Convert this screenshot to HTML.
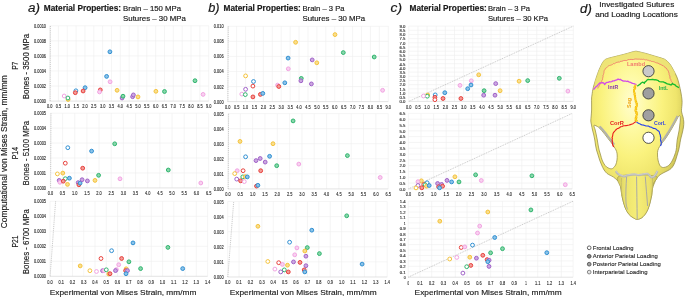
<!DOCTYPE html>
<html><head><meta charset="utf-8"><title>Figure</title>
<style>
html,body{margin:0;padding:0;background:#fff;}
body{width:685px;height:298px;overflow:hidden;}
svg{display:block;font-family:"Liberation Sans", sans-serif;will-change:transform;}
</style></head><body>
<svg width="685" height="298" viewBox="0 0 685 298">
<rect width="685" height="298" fill="#fff"/>
<g fill="#2a2a2a" stroke="#2a2a2a" stroke-width="0.12">
<line x1="58.44" y1="25.80" x2="58.44" y2="101.10" stroke="#efefef" stroke-width="0.6"/>
<line x1="67.28" y1="25.80" x2="67.28" y2="101.10" stroke="#efefef" stroke-width="0.6"/>
<line x1="76.12" y1="25.80" x2="76.12" y2="101.10" stroke="#efefef" stroke-width="0.6"/>
<line x1="84.96" y1="25.80" x2="84.96" y2="101.10" stroke="#efefef" stroke-width="0.6"/>
<line x1="93.79" y1="25.80" x2="93.79" y2="101.10" stroke="#efefef" stroke-width="0.6"/>
<line x1="102.63" y1="25.80" x2="102.63" y2="101.10" stroke="#efefef" stroke-width="0.6"/>
<line x1="111.47" y1="25.80" x2="111.47" y2="101.10" stroke="#efefef" stroke-width="0.6"/>
<line x1="120.31" y1="25.80" x2="120.31" y2="101.10" stroke="#efefef" stroke-width="0.6"/>
<line x1="129.15" y1="25.80" x2="129.15" y2="101.10" stroke="#efefef" stroke-width="0.6"/>
<line x1="137.99" y1="25.80" x2="137.99" y2="101.10" stroke="#efefef" stroke-width="0.6"/>
<line x1="146.83" y1="25.80" x2="146.83" y2="101.10" stroke="#efefef" stroke-width="0.6"/>
<line x1="155.67" y1="25.80" x2="155.67" y2="101.10" stroke="#efefef" stroke-width="0.6"/>
<line x1="164.51" y1="25.80" x2="164.51" y2="101.10" stroke="#efefef" stroke-width="0.6"/>
<line x1="173.34" y1="25.80" x2="173.34" y2="101.10" stroke="#efefef" stroke-width="0.6"/>
<line x1="182.18" y1="25.80" x2="182.18" y2="101.10" stroke="#efefef" stroke-width="0.6"/>
<line x1="191.02" y1="25.80" x2="191.02" y2="101.10" stroke="#efefef" stroke-width="0.6"/>
<line x1="199.86" y1="25.80" x2="199.86" y2="101.10" stroke="#efefef" stroke-width="0.6"/>
<line x1="208.70" y1="25.80" x2="208.70" y2="101.10" stroke="#efefef" stroke-width="0.6"/>
<line x1="49.60" y1="86.04" x2="208.70" y2="86.04" stroke="#efefef" stroke-width="0.6"/>
<line x1="49.60" y1="70.98" x2="208.70" y2="70.98" stroke="#efefef" stroke-width="0.6"/>
<line x1="49.60" y1="55.92" x2="208.70" y2="55.92" stroke="#efefef" stroke-width="0.6"/>
<line x1="49.60" y1="40.86" x2="208.70" y2="40.86" stroke="#efefef" stroke-width="0.6"/>
<line x1="49.60" y1="25.80" x2="208.70" y2="25.80" stroke="#efefef" stroke-width="0.6"/>
<line x1="49.60" y1="101.10" x2="208.70" y2="101.10" stroke="#d9d9d9" stroke-width="0.7"/>
<line x1="49.60" y1="25.80" x2="49.60" y2="101.10" stroke="#efefef" stroke-width="0.6"/>
<line x1="50.2" y1="101.1" x2="50.4" y2="25.8" stroke="#aaaaaa" stroke-width="0.65" stroke-dasharray="1 0.9"/>
<text x="49.60" y="108.40" font-size="4.7" text-anchor="middle" textLength="5.45" lengthAdjust="spacingAndGlyphs">0.0</text>
<text x="58.44" y="108.40" font-size="4.7" text-anchor="middle" textLength="5.45" lengthAdjust="spacingAndGlyphs">0.5</text>
<text x="67.28" y="108.40" font-size="4.7" text-anchor="middle" textLength="5.45" lengthAdjust="spacingAndGlyphs">1.0</text>
<text x="76.12" y="108.40" font-size="4.7" text-anchor="middle" textLength="5.45" lengthAdjust="spacingAndGlyphs">1.5</text>
<text x="84.96" y="108.40" font-size="4.7" text-anchor="middle" textLength="5.45" lengthAdjust="spacingAndGlyphs">2.0</text>
<text x="93.79" y="108.40" font-size="4.7" text-anchor="middle" textLength="5.45" lengthAdjust="spacingAndGlyphs">2.5</text>
<text x="102.63" y="108.40" font-size="4.7" text-anchor="middle" textLength="5.45" lengthAdjust="spacingAndGlyphs">3.0</text>
<text x="111.47" y="108.40" font-size="4.7" text-anchor="middle" textLength="5.45" lengthAdjust="spacingAndGlyphs">3.5</text>
<text x="120.31" y="108.40" font-size="4.7" text-anchor="middle" textLength="5.45" lengthAdjust="spacingAndGlyphs">4.0</text>
<text x="129.15" y="108.40" font-size="4.7" text-anchor="middle" textLength="5.45" lengthAdjust="spacingAndGlyphs">4.5</text>
<text x="137.99" y="108.40" font-size="4.7" text-anchor="middle" textLength="5.45" lengthAdjust="spacingAndGlyphs">5.0</text>
<text x="146.83" y="108.40" font-size="4.7" text-anchor="middle" textLength="5.45" lengthAdjust="spacingAndGlyphs">5.5</text>
<text x="155.67" y="108.40" font-size="4.7" text-anchor="middle" textLength="5.45" lengthAdjust="spacingAndGlyphs">6.0</text>
<text x="164.51" y="108.40" font-size="4.7" text-anchor="middle" textLength="5.45" lengthAdjust="spacingAndGlyphs">6.5</text>
<text x="173.34" y="108.40" font-size="4.7" text-anchor="middle" textLength="5.45" lengthAdjust="spacingAndGlyphs">7.0</text>
<text x="182.18" y="108.40" font-size="4.7" text-anchor="middle" textLength="5.45" lengthAdjust="spacingAndGlyphs">7.5</text>
<text x="191.02" y="108.40" font-size="4.7" text-anchor="middle" textLength="5.45" lengthAdjust="spacingAndGlyphs">8.0</text>
<text x="199.86" y="108.40" font-size="4.7" text-anchor="middle" textLength="5.45" lengthAdjust="spacingAndGlyphs">8.5</text>
<text x="208.70" y="108.40" font-size="4.7" text-anchor="middle" textLength="5.45" lengthAdjust="spacingAndGlyphs">9.0</text>
<text x="34.00" y="103.10" font-size="4.7" textLength="12.00" lengthAdjust="spacingAndGlyphs">0.0000</text>
<text x="34.00" y="88.04" font-size="4.7" textLength="12.00" lengthAdjust="spacingAndGlyphs">0.0002</text>
<text x="34.00" y="72.98" font-size="4.7" textLength="12.00" lengthAdjust="spacingAndGlyphs">0.0004</text>
<text x="34.00" y="57.92" font-size="4.7" textLength="12.00" lengthAdjust="spacingAndGlyphs">0.0006</text>
<text x="34.00" y="42.86" font-size="4.7" textLength="12.00" lengthAdjust="spacingAndGlyphs">0.0008</text>
<text x="34.00" y="27.80" font-size="4.7" textLength="12.00" lengthAdjust="spacingAndGlyphs">0.0010</text>
<circle cx="109.9" cy="51.8" r="1.9" fill="#8cc3e8" stroke="#2f8fd2" stroke-width="1.0"/>
<circle cx="106.6" cy="76.4" r="1.9" fill="#8cc3e8" stroke="#2f8fd2" stroke-width="1.0"/>
<circle cx="110.1" cy="81.8" r="1.9" fill="#f8d2f0" stroke="#f2a3e2" stroke-width="1.0"/>
<circle cx="85.1" cy="87.7" r="1.9" fill="#8cc3e8" stroke="#2f8fd2" stroke-width="1.0"/>
<circle cx="83.1" cy="91.0" r="1.9" fill="#f29c98" stroke="#e8403c" stroke-width="1.0"/>
<circle cx="75.9" cy="90.8" r="1.9" fill="#ffffff" stroke="#2f8fd2" stroke-width="1.0"/>
<circle cx="75.3" cy="92.7" r="1.9" fill="#f29c98" stroke="#e8403c" stroke-width="1.0"/>
<circle cx="100.3" cy="89.9" r="1.9" fill="#f29c98" stroke="#e8403c" stroke-width="1.0"/>
<circle cx="99.5" cy="91.9" r="1.9" fill="#f8d2f0" stroke="#f2a3e2" stroke-width="1.0"/>
<circle cx="64.2" cy="96.0" r="1.9" fill="#ffffff" stroke="#f2a3e2" stroke-width="1.0"/>
<circle cx="68.1" cy="99.5" r="1.9" fill="#f9de8e" stroke="#f5c33b" stroke-width="1.0"/>
<circle cx="67.9" cy="98.0" r="1.9" fill="#ffffff" stroke="#2fb56e" stroke-width="1.0"/>
<circle cx="117.1" cy="90.3" r="1.9" fill="#f9de8e" stroke="#f5c33b" stroke-width="1.0"/>
<circle cx="122.1" cy="98.0" r="1.9" fill="#cba8e0" stroke="#a062c8" stroke-width="1.0"/>
<circle cx="123.0" cy="96.2" r="1.9" fill="#8ad6ac" stroke="#2fb56e" stroke-width="1.0"/>
<circle cx="132.6" cy="96.7" r="1.9" fill="#cba8e0" stroke="#a062c8" stroke-width="1.0"/>
<circle cx="133.4" cy="94.9" r="1.9" fill="#cba8e0" stroke="#a062c8" stroke-width="1.0"/>
<circle cx="138.0" cy="96.9" r="1.9" fill="#f9de8e" stroke="#f5c33b" stroke-width="1.0"/>
<circle cx="155.9" cy="91.3" r="1.9" fill="#f9de8e" stroke="#f5c33b" stroke-width="1.0"/>
<circle cx="164.5" cy="91.5" r="1.9" fill="#8ad6ac" stroke="#2fb56e" stroke-width="1.0"/>
<circle cx="195.0" cy="80.7" r="1.9" fill="#8ad6ac" stroke="#2fb56e" stroke-width="1.0"/>
<circle cx="203.1" cy="94.4" r="1.9" fill="#f8d2f0" stroke="#f2a3e2" stroke-width="1.0"/>
<line x1="62.57" y1="113.20" x2="62.57" y2="187.90" stroke="#efefef" stroke-width="0.6"/>
<line x1="74.74" y1="113.20" x2="74.74" y2="187.90" stroke="#efefef" stroke-width="0.6"/>
<line x1="86.91" y1="113.20" x2="86.91" y2="187.90" stroke="#efefef" stroke-width="0.6"/>
<line x1="99.08" y1="113.20" x2="99.08" y2="187.90" stroke="#efefef" stroke-width="0.6"/>
<line x1="111.25" y1="113.20" x2="111.25" y2="187.90" stroke="#efefef" stroke-width="0.6"/>
<line x1="123.42" y1="113.20" x2="123.42" y2="187.90" stroke="#efefef" stroke-width="0.6"/>
<line x1="135.58" y1="113.20" x2="135.58" y2="187.90" stroke="#efefef" stroke-width="0.6"/>
<line x1="147.75" y1="113.20" x2="147.75" y2="187.90" stroke="#efefef" stroke-width="0.6"/>
<line x1="159.92" y1="113.20" x2="159.92" y2="187.90" stroke="#efefef" stroke-width="0.6"/>
<line x1="172.09" y1="113.20" x2="172.09" y2="187.90" stroke="#efefef" stroke-width="0.6"/>
<line x1="184.26" y1="113.20" x2="184.26" y2="187.90" stroke="#efefef" stroke-width="0.6"/>
<line x1="196.43" y1="113.20" x2="196.43" y2="187.90" stroke="#efefef" stroke-width="0.6"/>
<line x1="208.60" y1="113.20" x2="208.60" y2="187.90" stroke="#efefef" stroke-width="0.6"/>
<line x1="50.40" y1="172.96" x2="208.60" y2="172.96" stroke="#efefef" stroke-width="0.6"/>
<line x1="50.40" y1="158.02" x2="208.60" y2="158.02" stroke="#efefef" stroke-width="0.6"/>
<line x1="50.40" y1="143.08" x2="208.60" y2="143.08" stroke="#efefef" stroke-width="0.6"/>
<line x1="50.40" y1="128.14" x2="208.60" y2="128.14" stroke="#efefef" stroke-width="0.6"/>
<line x1="50.40" y1="113.20" x2="208.60" y2="113.20" stroke="#efefef" stroke-width="0.6"/>
<line x1="50.40" y1="187.90" x2="208.60" y2="187.90" stroke="#d9d9d9" stroke-width="0.7"/>
<line x1="50.40" y1="113.20" x2="50.40" y2="187.90" stroke="#efefef" stroke-width="0.6"/>
<line x1="50.6" y1="187.9" x2="51.0" y2="113.2" stroke="#aaaaaa" stroke-width="0.65" stroke-dasharray="1 0.9"/>
<text x="50.40" y="195.20" font-size="4.7" text-anchor="middle" textLength="5.45" lengthAdjust="spacingAndGlyphs">0.0</text>
<text x="62.57" y="195.20" font-size="4.7" text-anchor="middle" textLength="5.45" lengthAdjust="spacingAndGlyphs">0.5</text>
<text x="74.74" y="195.20" font-size="4.7" text-anchor="middle" textLength="5.45" lengthAdjust="spacingAndGlyphs">1.0</text>
<text x="86.91" y="195.20" font-size="4.7" text-anchor="middle" textLength="5.45" lengthAdjust="spacingAndGlyphs">1.5</text>
<text x="99.08" y="195.20" font-size="4.7" text-anchor="middle" textLength="5.45" lengthAdjust="spacingAndGlyphs">2.0</text>
<text x="111.25" y="195.20" font-size="4.7" text-anchor="middle" textLength="5.45" lengthAdjust="spacingAndGlyphs">2.5</text>
<text x="123.42" y="195.20" font-size="4.7" text-anchor="middle" textLength="5.45" lengthAdjust="spacingAndGlyphs">3.0</text>
<text x="135.58" y="195.20" font-size="4.7" text-anchor="middle" textLength="5.45" lengthAdjust="spacingAndGlyphs">3.5</text>
<text x="147.75" y="195.20" font-size="4.7" text-anchor="middle" textLength="5.45" lengthAdjust="spacingAndGlyphs">4.0</text>
<text x="159.92" y="195.20" font-size="4.7" text-anchor="middle" textLength="5.45" lengthAdjust="spacingAndGlyphs">4.5</text>
<text x="172.09" y="195.20" font-size="4.7" text-anchor="middle" textLength="5.45" lengthAdjust="spacingAndGlyphs">5.0</text>
<text x="184.26" y="195.20" font-size="4.7" text-anchor="middle" textLength="5.45" lengthAdjust="spacingAndGlyphs">5.5</text>
<text x="196.43" y="195.20" font-size="4.7" text-anchor="middle" textLength="5.45" lengthAdjust="spacingAndGlyphs">6.0</text>
<text x="208.60" y="195.20" font-size="4.7" text-anchor="middle" textLength="5.45" lengthAdjust="spacingAndGlyphs">6.5</text>
<text x="34.00" y="189.90" font-size="4.7" textLength="12.00" lengthAdjust="spacingAndGlyphs">0.0000</text>
<text x="34.00" y="174.96" font-size="4.7" textLength="12.00" lengthAdjust="spacingAndGlyphs">0.0001</text>
<text x="34.00" y="160.02" font-size="4.7" textLength="12.00" lengthAdjust="spacingAndGlyphs">0.0002</text>
<text x="34.00" y="145.08" font-size="4.7" textLength="12.00" lengthAdjust="spacingAndGlyphs">0.0003</text>
<text x="34.00" y="130.14" font-size="4.7" textLength="12.00" lengthAdjust="spacingAndGlyphs">0.0004</text>
<text x="34.00" y="115.20" font-size="4.7" textLength="12.00" lengthAdjust="spacingAndGlyphs">0.0005</text>
<circle cx="67.8" cy="147.7" r="1.9" fill="#ffffff" stroke="#2f8fd2" stroke-width="1.0"/>
<circle cx="91.6" cy="151.1" r="1.9" fill="#8cc3e8" stroke="#2f8fd2" stroke-width="1.0"/>
<circle cx="114.7" cy="143.8" r="1.9" fill="#8ad6ac" stroke="#2fb56e" stroke-width="1.0"/>
<circle cx="65.3" cy="163.2" r="1.9" fill="#ffffff" stroke="#e8403c" stroke-width="1.0"/>
<circle cx="82.7" cy="168.2" r="1.9" fill="#f29c98" stroke="#e8403c" stroke-width="1.0"/>
<circle cx="57.4" cy="173.9" r="1.9" fill="#ffffff" stroke="#f5c33b" stroke-width="1.0"/>
<circle cx="62.8" cy="173.1" r="1.9" fill="#f9de8e" stroke="#f5c33b" stroke-width="1.0"/>
<circle cx="98.6" cy="175.3" r="1.9" fill="#8ad6ac" stroke="#2fb56e" stroke-width="1.0"/>
<circle cx="65.3" cy="178.7" r="1.9" fill="#ffffff" stroke="#2fb56e" stroke-width="1.0"/>
<circle cx="69.4" cy="178.2" r="1.9" fill="#8cc3e8" stroke="#2f8fd2" stroke-width="1.0"/>
<circle cx="59.2" cy="180.4" r="1.9" fill="#cba8e0" stroke="#a062c8" stroke-width="1.0"/>
<circle cx="59.9" cy="182.3" r="1.9" fill="#f8d2f0" stroke="#f2a3e2" stroke-width="1.0"/>
<circle cx="63.3" cy="181.2" r="1.9" fill="#f29c98" stroke="#e8403c" stroke-width="1.0"/>
<circle cx="67.5" cy="184.4" r="1.9" fill="#f9de8e" stroke="#f5c33b" stroke-width="1.0"/>
<circle cx="78.2" cy="182.6" r="1.9" fill="#cba8e0" stroke="#a062c8" stroke-width="1.0"/>
<circle cx="78.9" cy="184.8" r="1.9" fill="#f29c98" stroke="#e8403c" stroke-width="1.0"/>
<circle cx="80.1" cy="183.1" r="1.9" fill="#8cc3e8" stroke="#2f8fd2" stroke-width="1.0"/>
<circle cx="82.1" cy="179.7" r="1.9" fill="#cba8e0" stroke="#a062c8" stroke-width="1.0"/>
<circle cx="87.4" cy="180.9" r="1.9" fill="#cba8e0" stroke="#a062c8" stroke-width="1.0"/>
<circle cx="95.0" cy="180.4" r="1.9" fill="#f9de8e" stroke="#f5c33b" stroke-width="1.0"/>
<circle cx="120.0" cy="178.8" r="1.9" fill="#f8d2f0" stroke="#f2a3e2" stroke-width="1.0"/>
<circle cx="168.3" cy="170.0" r="1.9" fill="#8ad6ac" stroke="#2fb56e" stroke-width="1.0"/>
<circle cx="200.8" cy="183.0" r="1.9" fill="#f8d2f0" stroke="#f2a3e2" stroke-width="1.0"/>
<line x1="61.26" y1="201.30" x2="61.26" y2="276.30" stroke="#efefef" stroke-width="0.6"/>
<line x1="72.51" y1="201.30" x2="72.51" y2="276.30" stroke="#efefef" stroke-width="0.6"/>
<line x1="83.77" y1="201.30" x2="83.77" y2="276.30" stroke="#efefef" stroke-width="0.6"/>
<line x1="95.03" y1="201.30" x2="95.03" y2="276.30" stroke="#efefef" stroke-width="0.6"/>
<line x1="106.29" y1="201.30" x2="106.29" y2="276.30" stroke="#efefef" stroke-width="0.6"/>
<line x1="117.54" y1="201.30" x2="117.54" y2="276.30" stroke="#efefef" stroke-width="0.6"/>
<line x1="128.80" y1="201.30" x2="128.80" y2="276.30" stroke="#efefef" stroke-width="0.6"/>
<line x1="140.06" y1="201.30" x2="140.06" y2="276.30" stroke="#efefef" stroke-width="0.6"/>
<line x1="151.31" y1="201.30" x2="151.31" y2="276.30" stroke="#efefef" stroke-width="0.6"/>
<line x1="162.57" y1="201.30" x2="162.57" y2="276.30" stroke="#efefef" stroke-width="0.6"/>
<line x1="173.83" y1="201.30" x2="173.83" y2="276.30" stroke="#efefef" stroke-width="0.6"/>
<line x1="185.09" y1="201.30" x2="185.09" y2="276.30" stroke="#efefef" stroke-width="0.6"/>
<line x1="196.34" y1="201.30" x2="196.34" y2="276.30" stroke="#efefef" stroke-width="0.6"/>
<line x1="207.60" y1="201.30" x2="207.60" y2="276.30" stroke="#efefef" stroke-width="0.6"/>
<line x1="50.00" y1="261.30" x2="207.60" y2="261.30" stroke="#efefef" stroke-width="0.6"/>
<line x1="50.00" y1="246.30" x2="207.60" y2="246.30" stroke="#efefef" stroke-width="0.6"/>
<line x1="50.00" y1="231.30" x2="207.60" y2="231.30" stroke="#efefef" stroke-width="0.6"/>
<line x1="50.00" y1="216.30" x2="207.60" y2="216.30" stroke="#efefef" stroke-width="0.6"/>
<line x1="50.00" y1="201.30" x2="207.60" y2="201.30" stroke="#efefef" stroke-width="0.6"/>
<line x1="50.00" y1="276.30" x2="207.60" y2="276.30" stroke="#d9d9d9" stroke-width="0.7"/>
<line x1="50.00" y1="201.30" x2="50.00" y2="276.30" stroke="#efefef" stroke-width="0.6"/>
<line x1="50.1" y1="276.3" x2="55.6" y2="201.3" stroke="#aaaaaa" stroke-width="0.65" stroke-dasharray="1 0.9"/>
<text x="50.00" y="283.60" font-size="4.7" text-anchor="middle" textLength="5.45" lengthAdjust="spacingAndGlyphs">0.0</text>
<text x="61.26" y="283.60" font-size="4.7" text-anchor="middle" textLength="5.45" lengthAdjust="spacingAndGlyphs">0.1</text>
<text x="72.51" y="283.60" font-size="4.7" text-anchor="middle" textLength="5.45" lengthAdjust="spacingAndGlyphs">0.2</text>
<text x="83.77" y="283.60" font-size="4.7" text-anchor="middle" textLength="5.45" lengthAdjust="spacingAndGlyphs">0.3</text>
<text x="95.03" y="283.60" font-size="4.7" text-anchor="middle" textLength="5.45" lengthAdjust="spacingAndGlyphs">0.4</text>
<text x="106.29" y="283.60" font-size="4.7" text-anchor="middle" textLength="5.45" lengthAdjust="spacingAndGlyphs">0.5</text>
<text x="117.54" y="283.60" font-size="4.7" text-anchor="middle" textLength="5.45" lengthAdjust="spacingAndGlyphs">0.6</text>
<text x="128.80" y="283.60" font-size="4.7" text-anchor="middle" textLength="5.45" lengthAdjust="spacingAndGlyphs">0.7</text>
<text x="140.06" y="283.60" font-size="4.7" text-anchor="middle" textLength="5.45" lengthAdjust="spacingAndGlyphs">0.8</text>
<text x="151.31" y="283.60" font-size="4.7" text-anchor="middle" textLength="5.45" lengthAdjust="spacingAndGlyphs">0.9</text>
<text x="162.57" y="283.60" font-size="4.7" text-anchor="middle" textLength="5.45" lengthAdjust="spacingAndGlyphs">1.0</text>
<text x="173.83" y="283.60" font-size="4.7" text-anchor="middle" textLength="5.45" lengthAdjust="spacingAndGlyphs">1.1</text>
<text x="185.09" y="283.60" font-size="4.7" text-anchor="middle" textLength="5.45" lengthAdjust="spacingAndGlyphs">1.2</text>
<text x="196.34" y="283.60" font-size="4.7" text-anchor="middle" textLength="5.45" lengthAdjust="spacingAndGlyphs">1.3</text>
<text x="207.60" y="283.60" font-size="4.7" text-anchor="middle" textLength="5.45" lengthAdjust="spacingAndGlyphs">1.4</text>
<text x="34.00" y="278.30" font-size="4.7" textLength="12.00" lengthAdjust="spacingAndGlyphs">0.0000</text>
<text x="34.00" y="263.30" font-size="4.7" textLength="12.00" lengthAdjust="spacingAndGlyphs">0.0001</text>
<text x="34.00" y="248.30" font-size="4.7" textLength="12.00" lengthAdjust="spacingAndGlyphs">0.0002</text>
<text x="34.00" y="233.30" font-size="4.7" textLength="12.00" lengthAdjust="spacingAndGlyphs">0.0003</text>
<text x="34.00" y="218.30" font-size="4.7" textLength="12.00" lengthAdjust="spacingAndGlyphs">0.0004</text>
<text x="34.00" y="203.30" font-size="4.7" textLength="12.00" lengthAdjust="spacingAndGlyphs">0.0005</text>
<circle cx="133.0" cy="242.9" r="1.9" fill="#8cc3e8" stroke="#2f8fd2" stroke-width="1.0"/>
<circle cx="167.9" cy="247.4" r="1.9" fill="#8ad6ac" stroke="#2fb56e" stroke-width="1.0"/>
<circle cx="111.6" cy="250.7" r="1.9" fill="#ffffff" stroke="#2f8fd2" stroke-width="1.0"/>
<circle cx="101.0" cy="258.5" r="1.9" fill="#ffffff" stroke="#e8403c" stroke-width="1.0"/>
<circle cx="121.6" cy="258.5" r="1.9" fill="#f29c98" stroke="#e8403c" stroke-width="1.0"/>
<circle cx="128.9" cy="261.8" r="1.9" fill="#8ad6ac" stroke="#2fb56e" stroke-width="1.0"/>
<circle cx="118.7" cy="264.7" r="1.9" fill="#f8d2f0" stroke="#f2a3e2" stroke-width="1.0"/>
<circle cx="80.2" cy="265.9" r="1.9" fill="#f9de8e" stroke="#f5c33b" stroke-width="1.0"/>
<circle cx="140.6" cy="268.6" r="1.9" fill="#8ad6ac" stroke="#2fb56e" stroke-width="1.0"/>
<circle cx="182.7" cy="268.6" r="1.9" fill="#8cc3e8" stroke="#2f8fd2" stroke-width="1.0"/>
<circle cx="89.9" cy="270.7" r="1.9" fill="#ffffff" stroke="#f5c33b" stroke-width="1.0"/>
<circle cx="96.5" cy="271.5" r="1.9" fill="#ffffff" stroke="#f2a3e2" stroke-width="1.0"/>
<circle cx="102.6" cy="270.7" r="1.9" fill="#cba8e0" stroke="#a062c8" stroke-width="1.0"/>
<circle cx="103.9" cy="270.7" r="1.9" fill="#f8d2f0" stroke="#f2a3e2" stroke-width="1.0"/>
<circle cx="106.3" cy="269.8" r="1.9" fill="#ffffff" stroke="#2fb56e" stroke-width="1.0"/>
<circle cx="126.2" cy="268.8" r="1.9" fill="#f9de8e" stroke="#f5c33b" stroke-width="1.0"/>
<circle cx="125.6" cy="270.6" r="1.9" fill="#f29c98" stroke="#e8403c" stroke-width="1.0"/>
<circle cx="127.5" cy="270.6" r="1.9" fill="#cba8e0" stroke="#a062c8" stroke-width="1.0"/>
<circle cx="116.4" cy="269.6" r="1.9" fill="#f8d2f0" stroke="#f2a3e2" stroke-width="1.0"/>
<circle cx="115.5" cy="270.6" r="1.9" fill="#cba8e0" stroke="#a062c8" stroke-width="1.0"/>
<circle cx="126.0" cy="273.7" r="1.9" fill="#8cc3e8" stroke="#2f8fd2" stroke-width="1.0"/>
<circle cx="108.8" cy="274.0" r="1.9" fill="#f9de8e" stroke="#f5c33b" stroke-width="1.0"/>
<circle cx="110.0" cy="273.7" r="1.9" fill="#f29c98" stroke="#e8403c" stroke-width="1.0"/>
<line x1="236.62" y1="26.30" x2="236.62" y2="101.60" stroke="#efefef" stroke-width="0.6"/>
<line x1="245.54" y1="26.30" x2="245.54" y2="101.60" stroke="#efefef" stroke-width="0.6"/>
<line x1="254.47" y1="26.30" x2="254.47" y2="101.60" stroke="#efefef" stroke-width="0.6"/>
<line x1="263.39" y1="26.30" x2="263.39" y2="101.60" stroke="#efefef" stroke-width="0.6"/>
<line x1="272.31" y1="26.30" x2="272.31" y2="101.60" stroke="#efefef" stroke-width="0.6"/>
<line x1="281.23" y1="26.30" x2="281.23" y2="101.60" stroke="#efefef" stroke-width="0.6"/>
<line x1="290.16" y1="26.30" x2="290.16" y2="101.60" stroke="#efefef" stroke-width="0.6"/>
<line x1="299.08" y1="26.30" x2="299.08" y2="101.60" stroke="#efefef" stroke-width="0.6"/>
<line x1="308.00" y1="26.30" x2="308.00" y2="101.60" stroke="#efefef" stroke-width="0.6"/>
<line x1="316.92" y1="26.30" x2="316.92" y2="101.60" stroke="#efefef" stroke-width="0.6"/>
<line x1="325.84" y1="26.30" x2="325.84" y2="101.60" stroke="#efefef" stroke-width="0.6"/>
<line x1="334.77" y1="26.30" x2="334.77" y2="101.60" stroke="#efefef" stroke-width="0.6"/>
<line x1="343.69" y1="26.30" x2="343.69" y2="101.60" stroke="#efefef" stroke-width="0.6"/>
<line x1="352.61" y1="26.30" x2="352.61" y2="101.60" stroke="#efefef" stroke-width="0.6"/>
<line x1="361.53" y1="26.30" x2="361.53" y2="101.60" stroke="#efefef" stroke-width="0.6"/>
<line x1="370.46" y1="26.30" x2="370.46" y2="101.60" stroke="#efefef" stroke-width="0.6"/>
<line x1="379.38" y1="26.30" x2="379.38" y2="101.60" stroke="#efefef" stroke-width="0.6"/>
<line x1="388.30" y1="26.30" x2="388.30" y2="101.60" stroke="#efefef" stroke-width="0.6"/>
<line x1="227.70" y1="86.54" x2="388.30" y2="86.54" stroke="#efefef" stroke-width="0.6"/>
<line x1="227.70" y1="71.48" x2="388.30" y2="71.48" stroke="#efefef" stroke-width="0.6"/>
<line x1="227.70" y1="56.42" x2="388.30" y2="56.42" stroke="#efefef" stroke-width="0.6"/>
<line x1="227.70" y1="41.36" x2="388.30" y2="41.36" stroke="#efefef" stroke-width="0.6"/>
<line x1="227.70" y1="26.30" x2="388.30" y2="26.30" stroke="#efefef" stroke-width="0.6"/>
<line x1="227.70" y1="101.60" x2="388.30" y2="101.60" stroke="#d9d9d9" stroke-width="0.7"/>
<line x1="227.70" y1="26.30" x2="227.70" y2="101.60" stroke="#efefef" stroke-width="0.6"/>
<line x1="227.9" y1="101.6" x2="228.3" y2="26.3" stroke="#aaaaaa" stroke-width="0.65" stroke-dasharray="1 0.9"/>
<text x="227.70" y="108.90" font-size="4.7" text-anchor="middle" textLength="5.45" lengthAdjust="spacingAndGlyphs">0.0</text>
<text x="236.62" y="108.90" font-size="4.7" text-anchor="middle" textLength="5.45" lengthAdjust="spacingAndGlyphs">0.5</text>
<text x="245.54" y="108.90" font-size="4.7" text-anchor="middle" textLength="5.45" lengthAdjust="spacingAndGlyphs">1.0</text>
<text x="254.47" y="108.90" font-size="4.7" text-anchor="middle" textLength="5.45" lengthAdjust="spacingAndGlyphs">1.5</text>
<text x="263.39" y="108.90" font-size="4.7" text-anchor="middle" textLength="5.45" lengthAdjust="spacingAndGlyphs">2.0</text>
<text x="272.31" y="108.90" font-size="4.7" text-anchor="middle" textLength="5.45" lengthAdjust="spacingAndGlyphs">2.5</text>
<text x="281.23" y="108.90" font-size="4.7" text-anchor="middle" textLength="5.45" lengthAdjust="spacingAndGlyphs">3.0</text>
<text x="290.16" y="108.90" font-size="4.7" text-anchor="middle" textLength="5.45" lengthAdjust="spacingAndGlyphs">3.5</text>
<text x="299.08" y="108.90" font-size="4.7" text-anchor="middle" textLength="5.45" lengthAdjust="spacingAndGlyphs">4.0</text>
<text x="308.00" y="108.90" font-size="4.7" text-anchor="middle" textLength="5.45" lengthAdjust="spacingAndGlyphs">4.5</text>
<text x="316.92" y="108.90" font-size="4.7" text-anchor="middle" textLength="5.45" lengthAdjust="spacingAndGlyphs">5.0</text>
<text x="325.84" y="108.90" font-size="4.7" text-anchor="middle" textLength="5.45" lengthAdjust="spacingAndGlyphs">5.5</text>
<text x="334.77" y="108.90" font-size="4.7" text-anchor="middle" textLength="5.45" lengthAdjust="spacingAndGlyphs">6.0</text>
<text x="343.69" y="108.90" font-size="4.7" text-anchor="middle" textLength="5.45" lengthAdjust="spacingAndGlyphs">6.5</text>
<text x="352.61" y="108.90" font-size="4.7" text-anchor="middle" textLength="5.45" lengthAdjust="spacingAndGlyphs">7.0</text>
<text x="361.53" y="108.90" font-size="4.7" text-anchor="middle" textLength="5.45" lengthAdjust="spacingAndGlyphs">7.5</text>
<text x="370.46" y="108.90" font-size="4.7" text-anchor="middle" textLength="5.45" lengthAdjust="spacingAndGlyphs">8.0</text>
<text x="379.38" y="108.90" font-size="4.7" text-anchor="middle" textLength="5.45" lengthAdjust="spacingAndGlyphs">8.5</text>
<text x="388.30" y="108.90" font-size="4.7" text-anchor="middle" textLength="5.45" lengthAdjust="spacingAndGlyphs">9.0</text>
<text x="213.80" y="103.60" font-size="4.7" textLength="9.80" lengthAdjust="spacingAndGlyphs">0.000</text>
<text x="213.80" y="88.54" font-size="4.7" textLength="9.80" lengthAdjust="spacingAndGlyphs">0.002</text>
<text x="213.80" y="73.48" font-size="4.7" textLength="9.80" lengthAdjust="spacingAndGlyphs">0.004</text>
<text x="213.80" y="58.42" font-size="4.7" textLength="9.80" lengthAdjust="spacingAndGlyphs">0.006</text>
<text x="213.80" y="43.36" font-size="4.7" textLength="9.80" lengthAdjust="spacingAndGlyphs">0.008</text>
<text x="213.80" y="28.30" font-size="4.7" textLength="9.80" lengthAdjust="spacingAndGlyphs">0.010</text>
<circle cx="335.0" cy="34.6" r="1.9" fill="#f9de8e" stroke="#f5c33b" stroke-width="1.0"/>
<circle cx="295.6" cy="42.3" r="1.9" fill="#f9de8e" stroke="#f5c33b" stroke-width="1.0"/>
<circle cx="343.3" cy="52.6" r="1.9" fill="#8ad6ac" stroke="#2fb56e" stroke-width="1.0"/>
<circle cx="374.2" cy="57.0" r="1.9" fill="#8ad6ac" stroke="#2fb56e" stroke-width="1.0"/>
<circle cx="288.1" cy="58.1" r="1.9" fill="#8cc3e8" stroke="#2f8fd2" stroke-width="1.0"/>
<circle cx="312.2" cy="59.9" r="1.9" fill="#cba8e0" stroke="#a062c8" stroke-width="1.0"/>
<circle cx="316.8" cy="62.8" r="1.9" fill="#f9de8e" stroke="#f5c33b" stroke-width="1.0"/>
<circle cx="288.3" cy="68.8" r="1.9" fill="#f8d2f0" stroke="#f2a3e2" stroke-width="1.0"/>
<circle cx="245.6" cy="75.9" r="1.9" fill="#ffffff" stroke="#f5c33b" stroke-width="1.0"/>
<circle cx="253.5" cy="81.5" r="1.9" fill="#ffffff" stroke="#2f8fd2" stroke-width="1.0"/>
<circle cx="301.3" cy="78.4" r="1.9" fill="#8ad6ac" stroke="#2fb56e" stroke-width="1.0"/>
<circle cx="300.9" cy="80.8" r="1.9" fill="#cba8e0" stroke="#a062c8" stroke-width="1.0"/>
<circle cx="284.8" cy="82.8" r="1.9" fill="#8cc3e8" stroke="#2f8fd2" stroke-width="1.0"/>
<circle cx="311.4" cy="83.9" r="1.9" fill="#cba8e0" stroke="#a062c8" stroke-width="1.0"/>
<circle cx="252.9" cy="86.1" r="1.9" fill="#ffffff" stroke="#e8403c" stroke-width="1.0"/>
<circle cx="277.6" cy="85.1" r="1.9" fill="#f8d2f0" stroke="#f2a3e2" stroke-width="1.0"/>
<circle cx="278.8" cy="86.5" r="1.9" fill="#f29c98" stroke="#e8403c" stroke-width="1.0"/>
<circle cx="245.6" cy="89.3" r="1.9" fill="#ffffff" stroke="#a062c8" stroke-width="1.0"/>
<circle cx="241.8" cy="94.1" r="1.9" fill="#ffffff" stroke="#f2a3e2" stroke-width="1.0"/>
<circle cx="245.3" cy="94.6" r="1.9" fill="#ffffff" stroke="#2fb56e" stroke-width="1.0"/>
<circle cx="252.9" cy="96.9" r="1.9" fill="#f29c98" stroke="#e8403c" stroke-width="1.0"/>
<circle cx="260.4" cy="94.4" r="1.9" fill="#f29c98" stroke="#e8403c" stroke-width="1.0"/>
<circle cx="262.8" cy="93.4" r="1.9" fill="#8cc3e8" stroke="#2f8fd2" stroke-width="1.0"/>
<circle cx="382.6" cy="90.3" r="1.9" fill="#f8d2f0" stroke="#f2a3e2" stroke-width="1.0"/>
<line x1="240.32" y1="113.60" x2="240.32" y2="188.90" stroke="#efefef" stroke-width="0.6"/>
<line x1="252.65" y1="113.60" x2="252.65" y2="188.90" stroke="#efefef" stroke-width="0.6"/>
<line x1="264.97" y1="113.60" x2="264.97" y2="188.90" stroke="#efefef" stroke-width="0.6"/>
<line x1="277.29" y1="113.60" x2="277.29" y2="188.90" stroke="#efefef" stroke-width="0.6"/>
<line x1="289.62" y1="113.60" x2="289.62" y2="188.90" stroke="#efefef" stroke-width="0.6"/>
<line x1="301.94" y1="113.60" x2="301.94" y2="188.90" stroke="#efefef" stroke-width="0.6"/>
<line x1="314.26" y1="113.60" x2="314.26" y2="188.90" stroke="#efefef" stroke-width="0.6"/>
<line x1="326.58" y1="113.60" x2="326.58" y2="188.90" stroke="#efefef" stroke-width="0.6"/>
<line x1="338.91" y1="113.60" x2="338.91" y2="188.90" stroke="#efefef" stroke-width="0.6"/>
<line x1="351.23" y1="113.60" x2="351.23" y2="188.90" stroke="#efefef" stroke-width="0.6"/>
<line x1="363.55" y1="113.60" x2="363.55" y2="188.90" stroke="#efefef" stroke-width="0.6"/>
<line x1="375.88" y1="113.60" x2="375.88" y2="188.90" stroke="#efefef" stroke-width="0.6"/>
<line x1="388.20" y1="113.60" x2="388.20" y2="188.90" stroke="#efefef" stroke-width="0.6"/>
<line x1="228.00" y1="173.84" x2="388.20" y2="173.84" stroke="#efefef" stroke-width="0.6"/>
<line x1="228.00" y1="158.78" x2="388.20" y2="158.78" stroke="#efefef" stroke-width="0.6"/>
<line x1="228.00" y1="143.72" x2="388.20" y2="143.72" stroke="#efefef" stroke-width="0.6"/>
<line x1="228.00" y1="128.66" x2="388.20" y2="128.66" stroke="#efefef" stroke-width="0.6"/>
<line x1="228.00" y1="113.60" x2="388.20" y2="113.60" stroke="#efefef" stroke-width="0.6"/>
<line x1="228.00" y1="188.90" x2="388.20" y2="188.90" stroke="#d9d9d9" stroke-width="0.7"/>
<line x1="228.00" y1="113.60" x2="228.00" y2="188.90" stroke="#efefef" stroke-width="0.6"/>
<line x1="228.2" y1="188.9" x2="228.6" y2="113.6" stroke="#aaaaaa" stroke-width="0.65" stroke-dasharray="1 0.9"/>
<text x="228.00" y="196.20" font-size="4.7" text-anchor="middle" textLength="5.45" lengthAdjust="spacingAndGlyphs">0.0</text>
<text x="240.32" y="196.20" font-size="4.7" text-anchor="middle" textLength="5.45" lengthAdjust="spacingAndGlyphs">0.5</text>
<text x="252.65" y="196.20" font-size="4.7" text-anchor="middle" textLength="5.45" lengthAdjust="spacingAndGlyphs">1.0</text>
<text x="264.97" y="196.20" font-size="4.7" text-anchor="middle" textLength="5.45" lengthAdjust="spacingAndGlyphs">1.5</text>
<text x="277.29" y="196.20" font-size="4.7" text-anchor="middle" textLength="5.45" lengthAdjust="spacingAndGlyphs">2.0</text>
<text x="289.62" y="196.20" font-size="4.7" text-anchor="middle" textLength="5.45" lengthAdjust="spacingAndGlyphs">2.5</text>
<text x="301.94" y="196.20" font-size="4.7" text-anchor="middle" textLength="5.45" lengthAdjust="spacingAndGlyphs">3.0</text>
<text x="314.26" y="196.20" font-size="4.7" text-anchor="middle" textLength="5.45" lengthAdjust="spacingAndGlyphs">3.5</text>
<text x="326.58" y="196.20" font-size="4.7" text-anchor="middle" textLength="5.45" lengthAdjust="spacingAndGlyphs">4.0</text>
<text x="338.91" y="196.20" font-size="4.7" text-anchor="middle" textLength="5.45" lengthAdjust="spacingAndGlyphs">4.5</text>
<text x="351.23" y="196.20" font-size="4.7" text-anchor="middle" textLength="5.45" lengthAdjust="spacingAndGlyphs">5.0</text>
<text x="363.55" y="196.20" font-size="4.7" text-anchor="middle" textLength="5.45" lengthAdjust="spacingAndGlyphs">5.5</text>
<text x="375.88" y="196.20" font-size="4.7" text-anchor="middle" textLength="5.45" lengthAdjust="spacingAndGlyphs">6.0</text>
<text x="388.20" y="196.20" font-size="4.7" text-anchor="middle" textLength="5.45" lengthAdjust="spacingAndGlyphs">6.5</text>
<text x="213.80" y="190.90" font-size="4.7" textLength="9.80" lengthAdjust="spacingAndGlyphs">0.000</text>
<text x="213.80" y="175.84" font-size="4.7" textLength="9.80" lengthAdjust="spacingAndGlyphs">0.001</text>
<text x="213.80" y="160.78" font-size="4.7" textLength="9.80" lengthAdjust="spacingAndGlyphs">0.002</text>
<text x="213.80" y="145.72" font-size="4.7" textLength="9.80" lengthAdjust="spacingAndGlyphs">0.003</text>
<text x="213.80" y="130.66" font-size="4.7" textLength="9.80" lengthAdjust="spacingAndGlyphs">0.004</text>
<text x="213.80" y="115.60" font-size="4.7" textLength="9.80" lengthAdjust="spacingAndGlyphs">0.005</text>
<circle cx="293.1" cy="120.9" r="1.9" fill="#8ad6ac" stroke="#2fb56e" stroke-width="1.0"/>
<circle cx="240.0" cy="141.4" r="1.9" fill="#f9de8e" stroke="#f5c33b" stroke-width="1.0"/>
<circle cx="273.0" cy="143.7" r="1.9" fill="#f9de8e" stroke="#f5c33b" stroke-width="1.0"/>
<circle cx="245.6" cy="156.8" r="1.9" fill="#ffffff" stroke="#2f8fd2" stroke-width="1.0"/>
<circle cx="269.6" cy="156.3" r="1.9" fill="#8cc3e8" stroke="#2f8fd2" stroke-width="1.0"/>
<circle cx="260.2" cy="158.5" r="1.9" fill="#cba8e0" stroke="#a062c8" stroke-width="1.0"/>
<circle cx="256.0" cy="160.6" r="1.9" fill="#cba8e0" stroke="#a062c8" stroke-width="1.0"/>
<circle cx="265.2" cy="162.1" r="1.9" fill="#cba8e0" stroke="#a062c8" stroke-width="1.0"/>
<circle cx="276.7" cy="165.7" r="1.9" fill="#8ad6ac" stroke="#2fb56e" stroke-width="1.0"/>
<circle cx="298.8" cy="164.1" r="1.9" fill="#f8d2f0" stroke="#f2a3e2" stroke-width="1.0"/>
<circle cx="347.4" cy="155.6" r="1.9" fill="#8ad6ac" stroke="#2fb56e" stroke-width="1.0"/>
<circle cx="380.2" cy="177.5" r="1.9" fill="#f8d2f0" stroke="#f2a3e2" stroke-width="1.0"/>
<circle cx="237.2" cy="170.7" r="1.9" fill="#f8d2f0" stroke="#f2a3e2" stroke-width="1.0"/>
<circle cx="243.1" cy="170.7" r="1.9" fill="#ffffff" stroke="#e8403c" stroke-width="1.0"/>
<circle cx="260.7" cy="170.7" r="1.9" fill="#f29c98" stroke="#e8403c" stroke-width="1.0"/>
<circle cx="234.7" cy="173.6" r="1.9" fill="#ffffff" stroke="#f5c33b" stroke-width="1.0"/>
<circle cx="242.8" cy="176.9" r="1.9" fill="#ffffff" stroke="#2fb56e" stroke-width="1.0"/>
<circle cx="245.3" cy="176.6" r="1.9" fill="#f9de8e" stroke="#f5c33b" stroke-width="1.0"/>
<circle cx="247.3" cy="176.9" r="1.9" fill="#8cc3e8" stroke="#2f8fd2" stroke-width="1.0"/>
<circle cx="236.7" cy="179.1" r="1.9" fill="#ffffff" stroke="#a062c8" stroke-width="1.0"/>
<circle cx="240.6" cy="180.8" r="1.9" fill="#f29c98" stroke="#e8403c" stroke-width="1.0"/>
<circle cx="244.3" cy="181.6" r="1.9" fill="#ffffff" stroke="#f2a3e2" stroke-width="1.0"/>
<circle cx="256.5" cy="186.1" r="1.9" fill="#f29c98" stroke="#e8403c" stroke-width="1.0"/>
<circle cx="257.9" cy="185.3" r="1.9" fill="#8cc3e8" stroke="#2f8fd2" stroke-width="1.0"/>
<line x1="239.09" y1="201.50" x2="239.09" y2="277.00" stroke="#efefef" stroke-width="0.6"/>
<line x1="250.49" y1="201.50" x2="250.49" y2="277.00" stroke="#efefef" stroke-width="0.6"/>
<line x1="261.88" y1="201.50" x2="261.88" y2="277.00" stroke="#efefef" stroke-width="0.6"/>
<line x1="273.27" y1="201.50" x2="273.27" y2="277.00" stroke="#efefef" stroke-width="0.6"/>
<line x1="284.66" y1="201.50" x2="284.66" y2="277.00" stroke="#efefef" stroke-width="0.6"/>
<line x1="296.06" y1="201.50" x2="296.06" y2="277.00" stroke="#efefef" stroke-width="0.6"/>
<line x1="307.45" y1="201.50" x2="307.45" y2="277.00" stroke="#efefef" stroke-width="0.6"/>
<line x1="318.84" y1="201.50" x2="318.84" y2="277.00" stroke="#efefef" stroke-width="0.6"/>
<line x1="330.24" y1="201.50" x2="330.24" y2="277.00" stroke="#efefef" stroke-width="0.6"/>
<line x1="341.63" y1="201.50" x2="341.63" y2="277.00" stroke="#efefef" stroke-width="0.6"/>
<line x1="353.02" y1="201.50" x2="353.02" y2="277.00" stroke="#efefef" stroke-width="0.6"/>
<line x1="364.41" y1="201.50" x2="364.41" y2="277.00" stroke="#efefef" stroke-width="0.6"/>
<line x1="375.81" y1="201.50" x2="375.81" y2="277.00" stroke="#efefef" stroke-width="0.6"/>
<line x1="387.20" y1="201.50" x2="387.20" y2="277.00" stroke="#efefef" stroke-width="0.6"/>
<line x1="227.70" y1="261.90" x2="387.20" y2="261.90" stroke="#efefef" stroke-width="0.6"/>
<line x1="227.70" y1="246.80" x2="387.20" y2="246.80" stroke="#efefef" stroke-width="0.6"/>
<line x1="227.70" y1="231.70" x2="387.20" y2="231.70" stroke="#efefef" stroke-width="0.6"/>
<line x1="227.70" y1="216.60" x2="387.20" y2="216.60" stroke="#efefef" stroke-width="0.6"/>
<line x1="227.70" y1="201.50" x2="387.20" y2="201.50" stroke="#efefef" stroke-width="0.6"/>
<line x1="227.70" y1="277.00" x2="387.20" y2="277.00" stroke="#d9d9d9" stroke-width="0.7"/>
<line x1="227.70" y1="201.50" x2="227.70" y2="277.00" stroke="#efefef" stroke-width="0.6"/>
<line x1="227.8" y1="277.0" x2="233.7" y2="201.5" stroke="#aaaaaa" stroke-width="0.65" stroke-dasharray="1 0.9"/>
<text x="227.70" y="284.30" font-size="4.7" text-anchor="middle" textLength="5.45" lengthAdjust="spacingAndGlyphs">0.0</text>
<text x="239.09" y="284.30" font-size="4.7" text-anchor="middle" textLength="5.45" lengthAdjust="spacingAndGlyphs">0.1</text>
<text x="250.49" y="284.30" font-size="4.7" text-anchor="middle" textLength="5.45" lengthAdjust="spacingAndGlyphs">0.2</text>
<text x="261.88" y="284.30" font-size="4.7" text-anchor="middle" textLength="5.45" lengthAdjust="spacingAndGlyphs">0.3</text>
<text x="273.27" y="284.30" font-size="4.7" text-anchor="middle" textLength="5.45" lengthAdjust="spacingAndGlyphs">0.4</text>
<text x="284.66" y="284.30" font-size="4.7" text-anchor="middle" textLength="5.45" lengthAdjust="spacingAndGlyphs">0.5</text>
<text x="296.06" y="284.30" font-size="4.7" text-anchor="middle" textLength="5.45" lengthAdjust="spacingAndGlyphs">0.6</text>
<text x="307.45" y="284.30" font-size="4.7" text-anchor="middle" textLength="5.45" lengthAdjust="spacingAndGlyphs">0.7</text>
<text x="318.84" y="284.30" font-size="4.7" text-anchor="middle" textLength="5.45" lengthAdjust="spacingAndGlyphs">0.8</text>
<text x="330.24" y="284.30" font-size="4.7" text-anchor="middle" textLength="5.45" lengthAdjust="spacingAndGlyphs">0.9</text>
<text x="341.63" y="284.30" font-size="4.7" text-anchor="middle" textLength="5.45" lengthAdjust="spacingAndGlyphs">1.0</text>
<text x="353.02" y="284.30" font-size="4.7" text-anchor="middle" textLength="5.45" lengthAdjust="spacingAndGlyphs">1.1</text>
<text x="364.41" y="284.30" font-size="4.7" text-anchor="middle" textLength="5.45" lengthAdjust="spacingAndGlyphs">1.2</text>
<text x="375.81" y="284.30" font-size="4.7" text-anchor="middle" textLength="5.45" lengthAdjust="spacingAndGlyphs">1.3</text>
<text x="387.20" y="284.30" font-size="4.7" text-anchor="middle" textLength="5.45" lengthAdjust="spacingAndGlyphs">1.4</text>
<text x="213.80" y="279.00" font-size="4.7" textLength="9.80" lengthAdjust="spacingAndGlyphs">0.000</text>
<text x="213.80" y="263.90" font-size="4.7" textLength="9.80" lengthAdjust="spacingAndGlyphs">0.001</text>
<text x="213.80" y="248.80" font-size="4.7" textLength="9.80" lengthAdjust="spacingAndGlyphs">0.002</text>
<text x="213.80" y="233.70" font-size="4.7" textLength="9.80" lengthAdjust="spacingAndGlyphs">0.003</text>
<text x="213.80" y="218.60" font-size="4.7" textLength="9.80" lengthAdjust="spacingAndGlyphs">0.004</text>
<text x="213.80" y="203.50" font-size="4.7" textLength="9.80" lengthAdjust="spacingAndGlyphs">0.005</text>
<circle cx="257.9" cy="226.3" r="1.9" fill="#f9de8e" stroke="#f5c33b" stroke-width="1.0"/>
<circle cx="346.7" cy="215.8" r="1.9" fill="#8ad6ac" stroke="#2fb56e" stroke-width="1.0"/>
<circle cx="311.8" cy="230.2" r="1.9" fill="#8cc3e8" stroke="#2f8fd2" stroke-width="1.0"/>
<circle cx="289.6" cy="242.2" r="1.9" fill="#ffffff" stroke="#2f8fd2" stroke-width="1.0"/>
<circle cx="296.9" cy="247.9" r="1.9" fill="#f8d2f0" stroke="#f2a3e2" stroke-width="1.0"/>
<circle cx="307.3" cy="247.6" r="1.9" fill="#8ad6ac" stroke="#2fb56e" stroke-width="1.0"/>
<circle cx="304.8" cy="251.0" r="1.9" fill="#f9de8e" stroke="#f5c33b" stroke-width="1.0"/>
<circle cx="319.4" cy="253.6" r="1.9" fill="#8ad6ac" stroke="#2fb56e" stroke-width="1.0"/>
<circle cx="294.7" cy="254.8" r="1.9" fill="#f8d2f0" stroke="#f2a3e2" stroke-width="1.0"/>
<circle cx="305.9" cy="256.2" r="1.9" fill="#cba8e0" stroke="#a062c8" stroke-width="1.0"/>
<circle cx="267.8" cy="261.5" r="1.9" fill="#ffffff" stroke="#f5c33b" stroke-width="1.0"/>
<circle cx="278.7" cy="262.7" r="1.9" fill="#ffffff" stroke="#e8403c" stroke-width="1.0"/>
<circle cx="282.4" cy="264.4" r="1.9" fill="#f8d2f0" stroke="#f2a3e2" stroke-width="1.0"/>
<circle cx="287.5" cy="265.2" r="1.9" fill="#f9de8e" stroke="#f5c33b" stroke-width="1.0"/>
<circle cx="293.5" cy="261.9" r="1.9" fill="#cba8e0" stroke="#a062c8" stroke-width="1.0"/>
<circle cx="300.0" cy="262.4" r="1.9" fill="#f29c98" stroke="#e8403c" stroke-width="1.0"/>
<circle cx="305.9" cy="265.7" r="1.9" fill="#cba8e0" stroke="#a062c8" stroke-width="1.0"/>
<circle cx="362.1" cy="264.1" r="1.9" fill="#8cc3e8" stroke="#2f8fd2" stroke-width="1.0"/>
<circle cx="274.9" cy="269.1" r="1.9" fill="#ffffff" stroke="#f2a3e2" stroke-width="1.0"/>
<circle cx="284.3" cy="269.9" r="1.9" fill="#ffffff" stroke="#2fb56e" stroke-width="1.0"/>
<circle cx="280.7" cy="271.9" r="1.9" fill="#ffffff" stroke="#a062c8" stroke-width="1.0"/>
<circle cx="288.3" cy="271.9" r="1.9" fill="#f29c98" stroke="#e8403c" stroke-width="1.0"/>
<circle cx="304.2" cy="269.9" r="1.9" fill="#f29c98" stroke="#e8403c" stroke-width="1.0"/>
<circle cx="304.8" cy="271.9" r="1.9" fill="#8cc3e8" stroke="#2f8fd2" stroke-width="1.0"/>
<line x1="417.94" y1="26.10" x2="417.94" y2="101.40" stroke="#efefef" stroke-width="0.6"/>
<line x1="427.08" y1="26.10" x2="427.08" y2="101.40" stroke="#efefef" stroke-width="0.6"/>
<line x1="436.22" y1="26.10" x2="436.22" y2="101.40" stroke="#efefef" stroke-width="0.6"/>
<line x1="445.36" y1="26.10" x2="445.36" y2="101.40" stroke="#efefef" stroke-width="0.6"/>
<line x1="454.49" y1="26.10" x2="454.49" y2="101.40" stroke="#efefef" stroke-width="0.6"/>
<line x1="463.63" y1="26.10" x2="463.63" y2="101.40" stroke="#efefef" stroke-width="0.6"/>
<line x1="472.77" y1="26.10" x2="472.77" y2="101.40" stroke="#efefef" stroke-width="0.6"/>
<line x1="481.91" y1="26.10" x2="481.91" y2="101.40" stroke="#efefef" stroke-width="0.6"/>
<line x1="491.05" y1="26.10" x2="491.05" y2="101.40" stroke="#efefef" stroke-width="0.6"/>
<line x1="500.19" y1="26.10" x2="500.19" y2="101.40" stroke="#efefef" stroke-width="0.6"/>
<line x1="509.33" y1="26.10" x2="509.33" y2="101.40" stroke="#efefef" stroke-width="0.6"/>
<line x1="518.47" y1="26.10" x2="518.47" y2="101.40" stroke="#efefef" stroke-width="0.6"/>
<line x1="527.61" y1="26.10" x2="527.61" y2="101.40" stroke="#efefef" stroke-width="0.6"/>
<line x1="536.74" y1="26.10" x2="536.74" y2="101.40" stroke="#efefef" stroke-width="0.6"/>
<line x1="545.88" y1="26.10" x2="545.88" y2="101.40" stroke="#efefef" stroke-width="0.6"/>
<line x1="555.02" y1="26.10" x2="555.02" y2="101.40" stroke="#efefef" stroke-width="0.6"/>
<line x1="564.16" y1="26.10" x2="564.16" y2="101.40" stroke="#efefef" stroke-width="0.6"/>
<line x1="573.30" y1="26.10" x2="573.30" y2="101.40" stroke="#efefef" stroke-width="0.6"/>
<line x1="408.80" y1="97.22" x2="573.30" y2="97.22" stroke="#efefef" stroke-width="0.6"/>
<line x1="408.80" y1="93.03" x2="573.30" y2="93.03" stroke="#efefef" stroke-width="0.6"/>
<line x1="408.80" y1="88.85" x2="573.30" y2="88.85" stroke="#efefef" stroke-width="0.6"/>
<line x1="408.80" y1="84.67" x2="573.30" y2="84.67" stroke="#efefef" stroke-width="0.6"/>
<line x1="408.80" y1="80.48" x2="573.30" y2="80.48" stroke="#efefef" stroke-width="0.6"/>
<line x1="408.80" y1="76.30" x2="573.30" y2="76.30" stroke="#efefef" stroke-width="0.6"/>
<line x1="408.80" y1="72.12" x2="573.30" y2="72.12" stroke="#efefef" stroke-width="0.6"/>
<line x1="408.80" y1="67.93" x2="573.30" y2="67.93" stroke="#efefef" stroke-width="0.6"/>
<line x1="408.80" y1="63.75" x2="573.30" y2="63.75" stroke="#efefef" stroke-width="0.6"/>
<line x1="408.80" y1="59.57" x2="573.30" y2="59.57" stroke="#efefef" stroke-width="0.6"/>
<line x1="408.80" y1="55.38" x2="573.30" y2="55.38" stroke="#efefef" stroke-width="0.6"/>
<line x1="408.80" y1="51.20" x2="573.30" y2="51.20" stroke="#efefef" stroke-width="0.6"/>
<line x1="408.80" y1="47.02" x2="573.30" y2="47.02" stroke="#efefef" stroke-width="0.6"/>
<line x1="408.80" y1="42.83" x2="573.30" y2="42.83" stroke="#efefef" stroke-width="0.6"/>
<line x1="408.80" y1="38.65" x2="573.30" y2="38.65" stroke="#efefef" stroke-width="0.6"/>
<line x1="408.80" y1="34.47" x2="573.30" y2="34.47" stroke="#efefef" stroke-width="0.6"/>
<line x1="408.80" y1="30.28" x2="573.30" y2="30.28" stroke="#efefef" stroke-width="0.6"/>
<line x1="408.80" y1="26.10" x2="573.30" y2="26.10" stroke="#efefef" stroke-width="0.6"/>
<line x1="408.80" y1="101.40" x2="573.30" y2="101.40" stroke="#d9d9d9" stroke-width="0.7"/>
<line x1="408.80" y1="26.10" x2="408.80" y2="101.40" stroke="#efefef" stroke-width="0.6"/>
<line x1="408.8" y1="101.4" x2="573.3" y2="26.1" stroke="#aaaaaa" stroke-width="0.65" stroke-dasharray="1 0.9"/>
<text x="408.80" y="108.70" font-size="4.7" text-anchor="middle" textLength="5.45" lengthAdjust="spacingAndGlyphs">0.0</text>
<text x="417.94" y="108.70" font-size="4.7" text-anchor="middle" textLength="5.45" lengthAdjust="spacingAndGlyphs">0.5</text>
<text x="427.08" y="108.70" font-size="4.7" text-anchor="middle" textLength="5.45" lengthAdjust="spacingAndGlyphs">1.0</text>
<text x="436.22" y="108.70" font-size="4.7" text-anchor="middle" textLength="5.45" lengthAdjust="spacingAndGlyphs">1.5</text>
<text x="445.36" y="108.70" font-size="4.7" text-anchor="middle" textLength="5.45" lengthAdjust="spacingAndGlyphs">2.0</text>
<text x="454.49" y="108.70" font-size="4.7" text-anchor="middle" textLength="5.45" lengthAdjust="spacingAndGlyphs">2.5</text>
<text x="463.63" y="108.70" font-size="4.7" text-anchor="middle" textLength="5.45" lengthAdjust="spacingAndGlyphs">3.0</text>
<text x="472.77" y="108.70" font-size="4.7" text-anchor="middle" textLength="5.45" lengthAdjust="spacingAndGlyphs">3.5</text>
<text x="481.91" y="108.70" font-size="4.7" text-anchor="middle" textLength="5.45" lengthAdjust="spacingAndGlyphs">4.0</text>
<text x="491.05" y="108.70" font-size="4.7" text-anchor="middle" textLength="5.45" lengthAdjust="spacingAndGlyphs">4.5</text>
<text x="500.19" y="108.70" font-size="4.7" text-anchor="middle" textLength="5.45" lengthAdjust="spacingAndGlyphs">5.0</text>
<text x="509.33" y="108.70" font-size="4.7" text-anchor="middle" textLength="5.45" lengthAdjust="spacingAndGlyphs">5.5</text>
<text x="518.47" y="108.70" font-size="4.7" text-anchor="middle" textLength="5.45" lengthAdjust="spacingAndGlyphs">6.0</text>
<text x="527.61" y="108.70" font-size="4.7" text-anchor="middle" textLength="5.45" lengthAdjust="spacingAndGlyphs">6.5</text>
<text x="536.74" y="108.70" font-size="4.7" text-anchor="middle" textLength="5.45" lengthAdjust="spacingAndGlyphs">7.0</text>
<text x="545.88" y="108.70" font-size="4.7" text-anchor="middle" textLength="5.45" lengthAdjust="spacingAndGlyphs">7.5</text>
<text x="555.02" y="108.70" font-size="4.7" text-anchor="middle" textLength="5.45" lengthAdjust="spacingAndGlyphs">8.0</text>
<text x="564.16" y="108.70" font-size="4.7" text-anchor="middle" textLength="5.45" lengthAdjust="spacingAndGlyphs">8.5</text>
<text x="573.30" y="108.70" font-size="4.7" text-anchor="middle" textLength="5.45" lengthAdjust="spacingAndGlyphs">9.0</text>
<text x="405.30" y="103.15" font-size="3.9" text-anchor="end" textLength="5.90" lengthAdjust="spacingAndGlyphs">0.0</text>
<text x="405.30" y="98.97" font-size="3.9" text-anchor="end" textLength="5.90" lengthAdjust="spacingAndGlyphs">0.5</text>
<text x="405.30" y="94.78" font-size="3.9" text-anchor="end" textLength="5.90" lengthAdjust="spacingAndGlyphs">1.0</text>
<text x="405.30" y="90.60" font-size="3.9" text-anchor="end" textLength="5.90" lengthAdjust="spacingAndGlyphs">1.5</text>
<text x="405.30" y="86.42" font-size="3.9" text-anchor="end" textLength="5.90" lengthAdjust="spacingAndGlyphs">2.0</text>
<text x="405.30" y="82.23" font-size="3.9" text-anchor="end" textLength="5.90" lengthAdjust="spacingAndGlyphs">2.5</text>
<text x="405.30" y="78.05" font-size="3.9" text-anchor="end" textLength="5.90" lengthAdjust="spacingAndGlyphs">3.0</text>
<text x="405.30" y="73.87" font-size="3.9" text-anchor="end" textLength="5.90" lengthAdjust="spacingAndGlyphs">3.5</text>
<text x="405.30" y="69.68" font-size="3.9" text-anchor="end" textLength="5.90" lengthAdjust="spacingAndGlyphs">4.0</text>
<text x="405.30" y="65.50" font-size="3.9" text-anchor="end" textLength="5.90" lengthAdjust="spacingAndGlyphs">4.5</text>
<text x="405.30" y="61.32" font-size="3.9" text-anchor="end" textLength="5.90" lengthAdjust="spacingAndGlyphs">5.0</text>
<text x="405.30" y="57.13" font-size="3.9" text-anchor="end" textLength="5.90" lengthAdjust="spacingAndGlyphs">5.5</text>
<text x="405.30" y="52.95" font-size="3.9" text-anchor="end" textLength="5.90" lengthAdjust="spacingAndGlyphs">6.0</text>
<text x="405.30" y="48.77" font-size="3.9" text-anchor="end" textLength="5.90" lengthAdjust="spacingAndGlyphs">6.5</text>
<text x="405.30" y="44.58" font-size="3.9" text-anchor="end" textLength="5.90" lengthAdjust="spacingAndGlyphs">7.0</text>
<text x="405.30" y="40.40" font-size="3.9" text-anchor="end" textLength="5.90" lengthAdjust="spacingAndGlyphs">7.5</text>
<text x="405.30" y="36.22" font-size="3.9" text-anchor="end" textLength="5.90" lengthAdjust="spacingAndGlyphs">8.0</text>
<text x="405.30" y="32.03" font-size="3.9" text-anchor="end" textLength="5.90" lengthAdjust="spacingAndGlyphs">8.5</text>
<text x="405.30" y="27.85" font-size="3.9" text-anchor="end" textLength="5.90" lengthAdjust="spacingAndGlyphs">9.0</text>
<circle cx="478.7" cy="74.8" r="1.9" fill="#f9de8e" stroke="#f5c33b" stroke-width="1.0"/>
<circle cx="471.3" cy="80.8" r="1.9" fill="#f8d2f0" stroke="#f2a3e2" stroke-width="1.0"/>
<circle cx="495.7" cy="83.6" r="1.9" fill="#cba8e0" stroke="#a062c8" stroke-width="1.0"/>
<circle cx="519.1" cy="81.2" r="1.9" fill="#f9de8e" stroke="#f5c33b" stroke-width="1.0"/>
<circle cx="527.7" cy="80.6" r="1.9" fill="#8ad6ac" stroke="#2fb56e" stroke-width="1.0"/>
<circle cx="559.3" cy="78.3" r="1.9" fill="#8ad6ac" stroke="#2fb56e" stroke-width="1.0"/>
<circle cx="460.0" cy="85.4" r="1.9" fill="#f8d2f0" stroke="#f2a3e2" stroke-width="1.0"/>
<circle cx="471.0" cy="85.0" r="1.9" fill="#8cc3e8" stroke="#2f8fd2" stroke-width="1.0"/>
<circle cx="467.7" cy="88.7" r="1.9" fill="#8cc3e8" stroke="#2f8fd2" stroke-width="1.0"/>
<circle cx="484.1" cy="90.7" r="1.9" fill="#8ad6ac" stroke="#2fb56e" stroke-width="1.0"/>
<circle cx="500.1" cy="90.7" r="1.9" fill="#f9de8e" stroke="#f5c33b" stroke-width="1.0"/>
<circle cx="567.9" cy="91.1" r="1.9" fill="#f8d2f0" stroke="#f2a3e2" stroke-width="1.0"/>
<circle cx="444.8" cy="92.7" r="1.9" fill="#8cc3e8" stroke="#2f8fd2" stroke-width="1.0"/>
<circle cx="483.7" cy="95.2" r="1.9" fill="#cba8e0" stroke="#a062c8" stroke-width="1.0"/>
<circle cx="495.0" cy="95.2" r="1.9" fill="#cba8e0" stroke="#a062c8" stroke-width="1.0"/>
<circle cx="435.2" cy="94.9" r="1.9" fill="#ffffff" stroke="#2f8fd2" stroke-width="1.0"/>
<circle cx="434.9" cy="97.3" r="1.9" fill="#f29c98" stroke="#e8403c" stroke-width="1.0"/>
<circle cx="434.9" cy="99.7" r="1.9" fill="#ffffff" stroke="#e8403c" stroke-width="1.0"/>
<circle cx="443.0" cy="98.5" r="1.9" fill="#f29c98" stroke="#e8403c" stroke-width="1.0"/>
<circle cx="460.9" cy="98.5" r="1.9" fill="#f29c98" stroke="#e8403c" stroke-width="1.0"/>
<circle cx="427.7" cy="95.0" r="1.9" fill="#f9de8e" stroke="#f5c33b" stroke-width="1.0"/>
<circle cx="427.3" cy="96.2" r="1.9" fill="#ffffff" stroke="#2fb56e" stroke-width="1.0"/>
<circle cx="423.5" cy="96.0" r="1.9" fill="#ffffff" stroke="#f2a3e2" stroke-width="1.0"/>
<line x1="421.00" y1="113.40" x2="421.00" y2="188.90" stroke="#efefef" stroke-width="0.6"/>
<line x1="433.60" y1="113.40" x2="433.60" y2="188.90" stroke="#efefef" stroke-width="0.6"/>
<line x1="446.20" y1="113.40" x2="446.20" y2="188.90" stroke="#efefef" stroke-width="0.6"/>
<line x1="458.80" y1="113.40" x2="458.80" y2="188.90" stroke="#efefef" stroke-width="0.6"/>
<line x1="471.40" y1="113.40" x2="471.40" y2="188.90" stroke="#efefef" stroke-width="0.6"/>
<line x1="484.00" y1="113.40" x2="484.00" y2="188.90" stroke="#efefef" stroke-width="0.6"/>
<line x1="496.60" y1="113.40" x2="496.60" y2="188.90" stroke="#efefef" stroke-width="0.6"/>
<line x1="509.20" y1="113.40" x2="509.20" y2="188.90" stroke="#efefef" stroke-width="0.6"/>
<line x1="521.80" y1="113.40" x2="521.80" y2="188.90" stroke="#efefef" stroke-width="0.6"/>
<line x1="534.40" y1="113.40" x2="534.40" y2="188.90" stroke="#efefef" stroke-width="0.6"/>
<line x1="547.00" y1="113.40" x2="547.00" y2="188.90" stroke="#efefef" stroke-width="0.6"/>
<line x1="559.60" y1="113.40" x2="559.60" y2="188.90" stroke="#efefef" stroke-width="0.6"/>
<line x1="572.20" y1="113.40" x2="572.20" y2="188.90" stroke="#efefef" stroke-width="0.6"/>
<line x1="408.40" y1="183.09" x2="572.20" y2="183.09" stroke="#efefef" stroke-width="0.6"/>
<line x1="408.40" y1="177.28" x2="572.20" y2="177.28" stroke="#efefef" stroke-width="0.6"/>
<line x1="408.40" y1="171.48" x2="572.20" y2="171.48" stroke="#efefef" stroke-width="0.6"/>
<line x1="408.40" y1="165.67" x2="572.20" y2="165.67" stroke="#efefef" stroke-width="0.6"/>
<line x1="408.40" y1="159.86" x2="572.20" y2="159.86" stroke="#efefef" stroke-width="0.6"/>
<line x1="408.40" y1="154.05" x2="572.20" y2="154.05" stroke="#efefef" stroke-width="0.6"/>
<line x1="408.40" y1="148.25" x2="572.20" y2="148.25" stroke="#efefef" stroke-width="0.6"/>
<line x1="408.40" y1="142.44" x2="572.20" y2="142.44" stroke="#efefef" stroke-width="0.6"/>
<line x1="408.40" y1="136.63" x2="572.20" y2="136.63" stroke="#efefef" stroke-width="0.6"/>
<line x1="408.40" y1="130.82" x2="572.20" y2="130.82" stroke="#efefef" stroke-width="0.6"/>
<line x1="408.40" y1="125.02" x2="572.20" y2="125.02" stroke="#efefef" stroke-width="0.6"/>
<line x1="408.40" y1="119.21" x2="572.20" y2="119.21" stroke="#efefef" stroke-width="0.6"/>
<line x1="408.40" y1="113.40" x2="572.20" y2="113.40" stroke="#efefef" stroke-width="0.6"/>
<line x1="408.40" y1="188.90" x2="572.20" y2="188.90" stroke="#d9d9d9" stroke-width="0.7"/>
<line x1="408.40" y1="113.40" x2="408.40" y2="188.90" stroke="#efefef" stroke-width="0.6"/>
<line x1="408.4" y1="188.9" x2="572.2" y2="113.4" stroke="#aaaaaa" stroke-width="0.65" stroke-dasharray="1 0.9"/>
<text x="408.40" y="196.20" font-size="4.7" text-anchor="middle" textLength="5.45" lengthAdjust="spacingAndGlyphs">0.0</text>
<text x="421.00" y="196.20" font-size="4.7" text-anchor="middle" textLength="5.45" lengthAdjust="spacingAndGlyphs">0.5</text>
<text x="433.60" y="196.20" font-size="4.7" text-anchor="middle" textLength="5.45" lengthAdjust="spacingAndGlyphs">1.0</text>
<text x="446.20" y="196.20" font-size="4.7" text-anchor="middle" textLength="5.45" lengthAdjust="spacingAndGlyphs">1.5</text>
<text x="458.80" y="196.20" font-size="4.7" text-anchor="middle" textLength="5.45" lengthAdjust="spacingAndGlyphs">2.0</text>
<text x="471.40" y="196.20" font-size="4.7" text-anchor="middle" textLength="5.45" lengthAdjust="spacingAndGlyphs">2.5</text>
<text x="484.00" y="196.20" font-size="4.7" text-anchor="middle" textLength="5.45" lengthAdjust="spacingAndGlyphs">3.0</text>
<text x="496.60" y="196.20" font-size="4.7" text-anchor="middle" textLength="5.45" lengthAdjust="spacingAndGlyphs">3.5</text>
<text x="509.20" y="196.20" font-size="4.7" text-anchor="middle" textLength="5.45" lengthAdjust="spacingAndGlyphs">4.0</text>
<text x="521.80" y="196.20" font-size="4.7" text-anchor="middle" textLength="5.45" lengthAdjust="spacingAndGlyphs">4.5</text>
<text x="534.40" y="196.20" font-size="4.7" text-anchor="middle" textLength="5.45" lengthAdjust="spacingAndGlyphs">5.0</text>
<text x="547.00" y="196.20" font-size="4.7" text-anchor="middle" textLength="5.45" lengthAdjust="spacingAndGlyphs">5.5</text>
<text x="559.60" y="196.20" font-size="4.7" text-anchor="middle" textLength="5.45" lengthAdjust="spacingAndGlyphs">6.0</text>
<text x="572.20" y="196.20" font-size="4.7" text-anchor="middle" textLength="5.45" lengthAdjust="spacingAndGlyphs">6.5</text>
<text x="405.30" y="190.65" font-size="3.9" text-anchor="end" textLength="5.90" lengthAdjust="spacingAndGlyphs">0.0</text>
<text x="405.30" y="184.84" font-size="3.9" text-anchor="end" textLength="5.90" lengthAdjust="spacingAndGlyphs">0.5</text>
<text x="405.30" y="179.03" font-size="3.9" text-anchor="end" textLength="5.90" lengthAdjust="spacingAndGlyphs">1.0</text>
<text x="405.30" y="173.23" font-size="3.9" text-anchor="end" textLength="5.90" lengthAdjust="spacingAndGlyphs">1.5</text>
<text x="405.30" y="167.42" font-size="3.9" text-anchor="end" textLength="5.90" lengthAdjust="spacingAndGlyphs">2.0</text>
<text x="405.30" y="161.61" font-size="3.9" text-anchor="end" textLength="5.90" lengthAdjust="spacingAndGlyphs">2.5</text>
<text x="405.30" y="155.80" font-size="3.9" text-anchor="end" textLength="5.90" lengthAdjust="spacingAndGlyphs">3.0</text>
<text x="405.30" y="150.00" font-size="3.9" text-anchor="end" textLength="5.90" lengthAdjust="spacingAndGlyphs">3.5</text>
<text x="405.30" y="144.19" font-size="3.9" text-anchor="end" textLength="5.90" lengthAdjust="spacingAndGlyphs">4.0</text>
<text x="405.30" y="138.38" font-size="3.9" text-anchor="end" textLength="5.90" lengthAdjust="spacingAndGlyphs">4.5</text>
<text x="405.30" y="132.57" font-size="3.9" text-anchor="end" textLength="5.90" lengthAdjust="spacingAndGlyphs">5.0</text>
<text x="405.30" y="126.77" font-size="3.9" text-anchor="end" textLength="5.90" lengthAdjust="spacingAndGlyphs">5.5</text>
<text x="405.30" y="120.96" font-size="3.9" text-anchor="end" textLength="5.90" lengthAdjust="spacingAndGlyphs">6.0</text>
<text x="405.30" y="115.15" font-size="3.9" text-anchor="end" textLength="5.90" lengthAdjust="spacingAndGlyphs">6.5</text>
<circle cx="475.6" cy="174.8" r="1.9" fill="#8ad6ac" stroke="#2fb56e" stroke-width="1.0"/>
<circle cx="481.3" cy="180.5" r="1.9" fill="#f8d2f0" stroke="#f2a3e2" stroke-width="1.0"/>
<circle cx="531.9" cy="175.8" r="1.9" fill="#8ad6ac" stroke="#2fb56e" stroke-width="1.0"/>
<circle cx="565.3" cy="184.7" r="1.9" fill="#f8d2f0" stroke="#f2a3e2" stroke-width="1.0"/>
<circle cx="454.9" cy="176.8" r="1.9" fill="#f9de8e" stroke="#f5c33b" stroke-width="1.0"/>
<circle cx="447.0" cy="180.4" r="1.9" fill="#cba8e0" stroke="#a062c8" stroke-width="1.0"/>
<circle cx="451.6" cy="181.9" r="1.9" fill="#8cc3e8" stroke="#2f8fd2" stroke-width="1.0"/>
<circle cx="459.0" cy="181.9" r="1.9" fill="#8ad6ac" stroke="#2fb56e" stroke-width="1.0"/>
<circle cx="421.4" cy="180.8" r="1.9" fill="#f9de8e" stroke="#f5c33b" stroke-width="1.0"/>
<circle cx="418.0" cy="181.7" r="1.9" fill="#f8d2f0" stroke="#f2a3e2" stroke-width="1.0"/>
<circle cx="427.1" cy="182.8" r="1.9" fill="#ffffff" stroke="#2f8fd2" stroke-width="1.0"/>
<circle cx="418.0" cy="185.5" r="1.9" fill="#ffffff" stroke="#a062c8" stroke-width="1.0"/>
<circle cx="416.0" cy="187.9" r="1.9" fill="#ffffff" stroke="#f5c33b" stroke-width="1.0"/>
<circle cx="423.8" cy="184.4" r="1.9" fill="#ffffff" stroke="#e8403c" stroke-width="1.0"/>
<circle cx="425.1" cy="184.8" r="1.9" fill="#ffffff" stroke="#2fb56e" stroke-width="1.0"/>
<circle cx="421.8" cy="187.8" r="1.9" fill="#f29c98" stroke="#e8403c" stroke-width="1.0"/>
<circle cx="426.5" cy="186.2" r="1.9" fill="#f9de8e" stroke="#f5c33b" stroke-width="1.0"/>
<circle cx="429.2" cy="185.5" r="1.9" fill="#8cc3e8" stroke="#2f8fd2" stroke-width="1.0"/>
<circle cx="437.6" cy="183.5" r="1.9" fill="#cba8e0" stroke="#a062c8" stroke-width="1.0"/>
<circle cx="441.6" cy="184.4" r="1.9" fill="#cba8e0" stroke="#a062c8" stroke-width="1.0"/>
<circle cx="438.6" cy="186.8" r="1.9" fill="#f29c98" stroke="#e8403c" stroke-width="1.0"/>
<circle cx="442.6" cy="186.2" r="1.9" fill="#f29c98" stroke="#e8403c" stroke-width="1.0"/>
<circle cx="439.6" cy="187.8" r="1.9" fill="#8cc3e8" stroke="#2f8fd2" stroke-width="1.0"/>
<line x1="419.98" y1="201.20" x2="419.98" y2="277.20" stroke="#efefef" stroke-width="0.6"/>
<line x1="431.76" y1="201.20" x2="431.76" y2="277.20" stroke="#efefef" stroke-width="0.6"/>
<line x1="443.54" y1="201.20" x2="443.54" y2="277.20" stroke="#efefef" stroke-width="0.6"/>
<line x1="455.31" y1="201.20" x2="455.31" y2="277.20" stroke="#efefef" stroke-width="0.6"/>
<line x1="467.09" y1="201.20" x2="467.09" y2="277.20" stroke="#efefef" stroke-width="0.6"/>
<line x1="478.87" y1="201.20" x2="478.87" y2="277.20" stroke="#efefef" stroke-width="0.6"/>
<line x1="490.65" y1="201.20" x2="490.65" y2="277.20" stroke="#efefef" stroke-width="0.6"/>
<line x1="502.43" y1="201.20" x2="502.43" y2="277.20" stroke="#efefef" stroke-width="0.6"/>
<line x1="514.21" y1="201.20" x2="514.21" y2="277.20" stroke="#efefef" stroke-width="0.6"/>
<line x1="525.99" y1="201.20" x2="525.99" y2="277.20" stroke="#efefef" stroke-width="0.6"/>
<line x1="537.76" y1="201.20" x2="537.76" y2="277.20" stroke="#efefef" stroke-width="0.6"/>
<line x1="549.54" y1="201.20" x2="549.54" y2="277.20" stroke="#efefef" stroke-width="0.6"/>
<line x1="561.32" y1="201.20" x2="561.32" y2="277.20" stroke="#efefef" stroke-width="0.6"/>
<line x1="573.10" y1="201.20" x2="573.10" y2="277.20" stroke="#efefef" stroke-width="0.6"/>
<line x1="408.20" y1="271.77" x2="573.10" y2="271.77" stroke="#efefef" stroke-width="0.6"/>
<line x1="408.20" y1="266.34" x2="573.10" y2="266.34" stroke="#efefef" stroke-width="0.6"/>
<line x1="408.20" y1="260.91" x2="573.10" y2="260.91" stroke="#efefef" stroke-width="0.6"/>
<line x1="408.20" y1="255.49" x2="573.10" y2="255.49" stroke="#efefef" stroke-width="0.6"/>
<line x1="408.20" y1="250.06" x2="573.10" y2="250.06" stroke="#efefef" stroke-width="0.6"/>
<line x1="408.20" y1="244.63" x2="573.10" y2="244.63" stroke="#efefef" stroke-width="0.6"/>
<line x1="408.20" y1="239.20" x2="573.10" y2="239.20" stroke="#efefef" stroke-width="0.6"/>
<line x1="408.20" y1="233.77" x2="573.10" y2="233.77" stroke="#efefef" stroke-width="0.6"/>
<line x1="408.20" y1="228.34" x2="573.10" y2="228.34" stroke="#efefef" stroke-width="0.6"/>
<line x1="408.20" y1="222.91" x2="573.10" y2="222.91" stroke="#efefef" stroke-width="0.6"/>
<line x1="408.20" y1="217.49" x2="573.10" y2="217.49" stroke="#efefef" stroke-width="0.6"/>
<line x1="408.20" y1="212.06" x2="573.10" y2="212.06" stroke="#efefef" stroke-width="0.6"/>
<line x1="408.20" y1="206.63" x2="573.10" y2="206.63" stroke="#efefef" stroke-width="0.6"/>
<line x1="408.20" y1="201.20" x2="573.10" y2="201.20" stroke="#efefef" stroke-width="0.6"/>
<line x1="408.20" y1="277.20" x2="573.10" y2="277.20" stroke="#d9d9d9" stroke-width="0.7"/>
<line x1="408.20" y1="201.20" x2="408.20" y2="277.20" stroke="#efefef" stroke-width="0.6"/>
<line x1="408.2" y1="277.2" x2="573.1" y2="201.2" stroke="#aaaaaa" stroke-width="0.65" stroke-dasharray="1 0.9"/>
<text x="408.20" y="284.50" font-size="4.7" text-anchor="middle" textLength="1.55" lengthAdjust="spacingAndGlyphs">0</text>
<text x="419.98" y="284.50" font-size="4.7" text-anchor="middle" textLength="5.45" lengthAdjust="spacingAndGlyphs">0.1</text>
<text x="431.76" y="284.50" font-size="4.7" text-anchor="middle" textLength="5.45" lengthAdjust="spacingAndGlyphs">0.2</text>
<text x="443.54" y="284.50" font-size="4.7" text-anchor="middle" textLength="5.45" lengthAdjust="spacingAndGlyphs">0.3</text>
<text x="455.31" y="284.50" font-size="4.7" text-anchor="middle" textLength="5.45" lengthAdjust="spacingAndGlyphs">0.4</text>
<text x="467.09" y="284.50" font-size="4.7" text-anchor="middle" textLength="5.45" lengthAdjust="spacingAndGlyphs">0.5</text>
<text x="478.87" y="284.50" font-size="4.7" text-anchor="middle" textLength="5.45" lengthAdjust="spacingAndGlyphs">0.6</text>
<text x="490.65" y="284.50" font-size="4.7" text-anchor="middle" textLength="5.45" lengthAdjust="spacingAndGlyphs">0.7</text>
<text x="502.43" y="284.50" font-size="4.7" text-anchor="middle" textLength="5.45" lengthAdjust="spacingAndGlyphs">0.8</text>
<text x="514.21" y="284.50" font-size="4.7" text-anchor="middle" textLength="5.45" lengthAdjust="spacingAndGlyphs">0.9</text>
<text x="525.99" y="284.50" font-size="4.7" text-anchor="middle" textLength="1.55" lengthAdjust="spacingAndGlyphs">1</text>
<text x="537.76" y="284.50" font-size="4.7" text-anchor="middle" textLength="5.45" lengthAdjust="spacingAndGlyphs">1.1</text>
<text x="549.54" y="284.50" font-size="4.7" text-anchor="middle" textLength="5.45" lengthAdjust="spacingAndGlyphs">1.2</text>
<text x="561.32" y="284.50" font-size="4.7" text-anchor="middle" textLength="5.45" lengthAdjust="spacingAndGlyphs">1.3</text>
<text x="573.10" y="284.50" font-size="4.7" text-anchor="middle" textLength="5.45" lengthAdjust="spacingAndGlyphs">1.4</text>
<text x="405.70" y="278.95" font-size="3.9" text-anchor="end" textLength="1.90" lengthAdjust="spacingAndGlyphs">0</text>
<text x="405.70" y="273.52" font-size="3.9" text-anchor="end" textLength="5.90" lengthAdjust="spacingAndGlyphs">0.1</text>
<text x="405.70" y="268.09" font-size="3.9" text-anchor="end" textLength="5.90" lengthAdjust="spacingAndGlyphs">0.2</text>
<text x="405.70" y="262.66" font-size="3.9" text-anchor="end" textLength="5.90" lengthAdjust="spacingAndGlyphs">0.3</text>
<text x="405.70" y="257.24" font-size="3.9" text-anchor="end" textLength="5.90" lengthAdjust="spacingAndGlyphs">0.4</text>
<text x="405.70" y="251.81" font-size="3.9" text-anchor="end" textLength="5.90" lengthAdjust="spacingAndGlyphs">0.5</text>
<text x="405.70" y="246.38" font-size="3.9" text-anchor="end" textLength="5.90" lengthAdjust="spacingAndGlyphs">0.6</text>
<text x="405.70" y="240.95" font-size="3.9" text-anchor="end" textLength="5.90" lengthAdjust="spacingAndGlyphs">0.7</text>
<text x="405.70" y="235.52" font-size="3.9" text-anchor="end" textLength="5.90" lengthAdjust="spacingAndGlyphs">0.8</text>
<text x="405.70" y="230.09" font-size="3.9" text-anchor="end" textLength="5.90" lengthAdjust="spacingAndGlyphs">0.9</text>
<text x="405.70" y="224.66" font-size="3.9" text-anchor="end" textLength="1.90" lengthAdjust="spacingAndGlyphs">1</text>
<text x="405.70" y="219.24" font-size="3.9" text-anchor="end" textLength="5.90" lengthAdjust="spacingAndGlyphs">1.1</text>
<text x="405.70" y="213.81" font-size="3.9" text-anchor="end" textLength="5.90" lengthAdjust="spacingAndGlyphs">1.2</text>
<text x="405.70" y="208.38" font-size="3.9" text-anchor="end" textLength="5.90" lengthAdjust="spacingAndGlyphs">1.3</text>
<text x="405.70" y="202.95" font-size="3.9" text-anchor="end" textLength="5.90" lengthAdjust="spacingAndGlyphs">1.4</text>
<circle cx="530.9" cy="209.9" r="1.9" fill="#8ad6ac" stroke="#2fb56e" stroke-width="1.0"/>
<circle cx="487.8" cy="212.0" r="1.9" fill="#f9de8e" stroke="#f5c33b" stroke-width="1.0"/>
<circle cx="439.8" cy="221.2" r="1.9" fill="#f9de8e" stroke="#f5c33b" stroke-width="1.0"/>
<circle cx="479.7" cy="226.1" r="1.9" fill="#f8d2f0" stroke="#f2a3e2" stroke-width="1.0"/>
<circle cx="477.5" cy="233.0" r="1.9" fill="#f8d2f0" stroke="#f2a3e2" stroke-width="1.0"/>
<circle cx="494.7" cy="237.5" r="1.9" fill="#8cc3e8" stroke="#2f8fd2" stroke-width="1.0"/>
<circle cx="472.5" cy="245.1" r="1.9" fill="#ffffff" stroke="#2f8fd2" stroke-width="1.0"/>
<circle cx="461.2" cy="247.5" r="1.9" fill="#ffffff" stroke="#e8403c" stroke-width="1.0"/>
<circle cx="464.8" cy="246.9" r="1.9" fill="#f8d2f0" stroke="#f2a3e2" stroke-width="1.0"/>
<circle cx="502.5" cy="248.7" r="1.9" fill="#8ad6ac" stroke="#2fb56e" stroke-width="1.0"/>
<circle cx="546.8" cy="252.7" r="1.9" fill="#8cc3e8" stroke="#2f8fd2" stroke-width="1.0"/>
<circle cx="490.6" cy="252.8" r="1.9" fill="#8ad6ac" stroke="#2fb56e" stroke-width="1.0"/>
<circle cx="482.8" cy="255.3" r="1.9" fill="#f29c98" stroke="#e8403c" stroke-width="1.0"/>
<circle cx="469.8" cy="257.2" r="1.9" fill="#f9de8e" stroke="#f5c33b" stroke-width="1.0"/>
<circle cx="476.4" cy="258.2" r="1.9" fill="#cba8e0" stroke="#a062c8" stroke-width="1.0"/>
<circle cx="449.7" cy="259.0" r="1.9" fill="#ffffff" stroke="#f5c33b" stroke-width="1.0"/>
<circle cx="456.8" cy="257.4" r="1.9" fill="#ffffff" stroke="#f2a3e2" stroke-width="1.0"/>
<circle cx="487.1" cy="259.6" r="1.9" fill="#f29c98" stroke="#e8403c" stroke-width="1.0"/>
<circle cx="489.1" cy="260.2" r="1.9" fill="#cba8e0" stroke="#a062c8" stroke-width="1.0"/>
<circle cx="487.8" cy="261.7" r="1.9" fill="#8cc3e8" stroke="#2f8fd2" stroke-width="1.0"/>
<circle cx="470.8" cy="265.4" r="1.9" fill="#f29c98" stroke="#e8403c" stroke-width="1.0"/>
<circle cx="466.7" cy="266.7" r="1.9" fill="#ffffff" stroke="#2fb56e" stroke-width="1.0"/>
<circle cx="489.0" cy="266.4" r="1.9" fill="#cba8e0" stroke="#a062c8" stroke-width="1.0"/>
<circle cx="462.9" cy="273.1" r="1.9" fill="#ffffff" stroke="#a062c8" stroke-width="1.0"/>
</g>
<g fill="#1a1a1a" stroke="#1a1a1a" stroke-width="0.18">
<text x="28" y="12.3" font-size="12" font-style="italic" textLength="12" lengthAdjust="spacingAndGlyphs">a)</text>
<text x="43.8" y="10.6" font-size="8.2" font-weight="bold" textLength="77.3" lengthAdjust="spacingAndGlyphs">Material Properties:</text>
<text x="123.1" y="10.6" font-size="7.9" textLength="58" lengthAdjust="spacingAndGlyphs">Brain – 150 MPa</text>
<text x="123.1" y="20.6" font-size="7.9" textLength="62.7" lengthAdjust="spacingAndGlyphs">Sutures – 30 MPa</text>
<text x="208.2" y="12.3" font-size="12" font-style="italic" textLength="11.3" lengthAdjust="spacingAndGlyphs">b)</text>
<text x="223.5" y="10.6" font-size="8.2" font-weight="bold" textLength="77.3" lengthAdjust="spacingAndGlyphs">Material Properties:</text>
<text x="302.5" y="10.6" font-size="7.9" textLength="42" lengthAdjust="spacingAndGlyphs">Brain – 3 Pa</text>
<text x="302.5" y="20.6" font-size="7.9" textLength="62.7" lengthAdjust="spacingAndGlyphs">Sutures – 30 MPa</text>
<text x="390.5" y="12.3" font-size="12" font-style="italic" textLength="11.5" lengthAdjust="spacingAndGlyphs">c)</text>
<text x="409.5" y="10.6" font-size="8.2" font-weight="bold" textLength="77.3" lengthAdjust="spacingAndGlyphs">Material Properties:</text>
<text x="488" y="10.6" font-size="7.9" textLength="42" lengthAdjust="spacingAndGlyphs">Brain – 3 Pa</text>
<text x="488" y="20.6" font-size="7.9" textLength="60" lengthAdjust="spacingAndGlyphs">Sutures – 30 KPa</text>
<text x="580.1" y="12.8" font-size="12" font-style="italic" textLength="11.7" lengthAdjust="spacingAndGlyphs">d)</text>
<text x="599.3" y="7.4" font-size="7.6" textLength="75" lengthAdjust="spacingAndGlyphs">Investigated Sutures</text>
<text x="595.2" y="17.0" font-size="7.6" textLength="82.6" lengthAdjust="spacingAndGlyphs">and Loading Locations</text>
</g>
<g fill="#1a1a1a" font-size="7.8" stroke="#1a1a1a" stroke-width="0.15">
<text x="49.8" y="294.7" textLength="146.5" lengthAdjust="spacingAndGlyphs">Experimental von Mises Strain, mm/mm</text>
<text x="229.8" y="294.7" textLength="146.8" lengthAdjust="spacingAndGlyphs">Experimental von Mises Strain, mm/mm</text>
<text x="414.6" y="294.7" textLength="147" lengthAdjust="spacingAndGlyphs">Experimental von Mises Strain, mm/mm</text>
<text transform="translate(7.2,228.2) rotate(-90)" font-size="8.3" textLength="153" lengthAdjust="spacingAndGlyphs">Computational von Mises Strain, mm/mm</text>
<text transform="translate(17.9,69.8) rotate(-90)" font-size="8.4" textLength="8.1" lengthAdjust="spacingAndGlyphs">P7</text>
<text transform="translate(28.5,99.2) rotate(-90)" font-size="8.4" textLength="65.4" lengthAdjust="spacingAndGlyphs">Bones - 3500 MPa</text>
<text transform="translate(17.8,159.3) rotate(-90)" font-size="8.4" textLength="12.3" lengthAdjust="spacingAndGlyphs">P14</text>
<text transform="translate(28.5,185.4) rotate(-90)" font-size="8.4" textLength="64.6" lengthAdjust="spacingAndGlyphs">Bones - 5100 MPa</text>
<text transform="translate(17.8,247.4) rotate(-90)" font-size="8.4" textLength="11.8" lengthAdjust="spacingAndGlyphs">P21</text>
<text transform="translate(28.5,274.2) rotate(-90)" font-size="8.4" textLength="65.0" lengthAdjust="spacingAndGlyphs">Bones - 6700 MPa</text>
</g>
<g font-size="6.1" fill="#222" stroke="#222" stroke-width="0.1">
<text x="592.8" y="249.9" textLength="40.8" lengthAdjust="spacingAndGlyphs">Frontal Loading</text>
<text x="592.8" y="258.2" textLength="65" lengthAdjust="spacingAndGlyphs">Anterior Parietal Loading</text>
<text x="592.8" y="266.3" textLength="68" lengthAdjust="spacingAndGlyphs">Posterior Parietal Loading</text>
<text x="592.8" y="274.4" textLength="54.7" lengthAdjust="spacingAndGlyphs">Interparietal Loading</text>
</g>
<g>
<circle cx="589.2" cy="247.8" r="1.85" fill="#fff" stroke="#505050" stroke-width="0.9"/>
<circle cx="589.2" cy="256.3" r="1.85" fill="#8a8a8a" stroke="#4a4a4a" stroke-width="0.9"/>
<circle cx="589.2" cy="264.2" r="1.85" fill="#a0a0a0" stroke="#555" stroke-width="0.9"/>
<circle cx="589.2" cy="272.1" r="1.85" fill="#e4e4e4" stroke="#7a7a7a" stroke-width="0.9"/>
</g>
<g id="skull">
<defs>
<radialGradient id="sk" cx="0.44" cy="0.3" r="0.6">
<stop offset="0" stop-color="#fffdd0"/>
<stop offset="0.25" stop-color="#fefaa6"/>
<stop offset="0.55" stop-color="#faf27e"/>
<stop offset="0.8" stop-color="#efe56c"/>
<stop offset="0.93" stop-color="#dcd260"/>
<stop offset="1" stop-color="#c6bc52"/>
</radialGradient>
<linearGradient id="sn" x1="0" y1="0" x2="1" y2="0">
<stop offset="0" stop-color="#d4ca5c"/>
<stop offset="0.2" stop-color="#ede46e"/>
<stop offset="0.5" stop-color="#f6ee78"/>
<stop offset="0.8" stop-color="#ece26c"/>
<stop offset="1" stop-color="#cec458"/>
</linearGradient>
</defs>
<path d="M636.00,51.20 C637.75,51.22 639.65,51.97 641.50,52.40 C643.35,52.83 644.52,53.07 647.10,53.80 C649.68,54.53 654.10,55.90 657.00,56.80 C659.90,57.70 662.43,58.10 664.50,59.20 C666.57,60.30 667.95,61.67 669.40,63.40 C670.85,65.13 671.95,67.33 673.20,69.60 C674.45,71.87 675.93,74.63 676.90,77.00 C677.87,79.37 678.32,81.13 679.00,83.80 C679.68,86.47 680.50,90.30 681.00,93.00 C681.50,95.70 681.83,98.13 682.00,100.00 C682.17,101.87 682.07,102.78 682.00,104.20 C681.93,105.62 681.67,107.20 681.60,108.50 C681.53,109.80 681.37,110.58 681.60,112.00 C681.83,113.42 682.63,115.33 683.00,117.00 C683.37,118.67 683.72,120.33 683.80,122.00 C683.88,123.67 683.72,125.33 683.50,127.00 C683.28,128.67 682.83,130.50 682.50,132.00 C682.17,133.50 681.83,134.67 681.50,136.00 C681.17,137.33 680.80,138.50 680.50,140.00 C680.20,141.50 680.00,143.33 679.70,145.00 C679.40,146.67 679.12,148.33 678.70,150.00 C678.28,151.67 677.70,153.33 677.20,155.00 C676.70,156.67 676.28,158.33 675.70,160.00 C675.12,161.67 674.47,163.58 673.70,165.00 C672.93,166.42 672.03,167.58 671.10,168.50 C670.17,169.42 669.28,169.83 668.10,170.50 C666.92,171.17 665.33,171.78 664.00,172.50 C662.67,173.22 661.30,173.88 660.10,174.80 C658.90,175.72 657.72,176.68 656.80,178.00 C655.88,179.32 655.30,181.03 654.60,182.70 C653.90,184.37 653.15,185.62 652.60,188.00 C652.05,190.38 651.85,194.08 651.30,197.00 C650.75,199.92 650.13,202.90 649.30,205.50 C648.47,208.10 647.52,210.58 646.30,212.60 C645.08,214.62 643.43,216.48 642.00,217.60 C640.57,218.72 638.93,219.15 637.70,219.30 C636.47,219.45 636.02,219.28 634.60,218.50 C633.18,217.72 630.82,216.52 629.20,214.60 C627.58,212.68 626.07,209.93 624.90,207.00 C623.73,204.07 622.88,200.17 622.20,197.00 C621.52,193.83 621.27,190.42 620.80,188.00 C620.33,185.58 620.05,183.83 619.40,182.50 C618.75,181.17 617.88,180.90 616.90,180.00 C615.92,179.10 614.62,177.88 613.50,177.10 C612.38,176.32 611.27,175.90 610.20,175.30 C609.13,174.70 608.12,174.38 607.10,173.50 C606.08,172.62 605.02,171.42 604.10,170.00 C603.18,168.58 602.35,166.67 601.60,165.00 C600.85,163.33 600.18,161.67 599.60,160.00 C599.02,158.33 598.62,156.67 598.10,155.00 C597.58,153.33 596.93,151.67 596.50,150.00 C596.07,148.33 595.78,146.67 595.50,145.00 C595.22,143.33 595.08,141.67 594.80,140.00 C594.52,138.33 594.18,136.67 593.80,135.00 C593.42,133.33 592.88,131.67 592.50,130.00 C592.12,128.33 591.78,126.50 591.50,125.00 C591.22,123.50 590.85,122.50 590.80,121.00 C590.75,119.50 591.07,117.83 591.20,116.00 C591.33,114.17 591.53,112.00 591.60,110.00 C591.67,108.00 591.60,106.00 591.60,104.00 C591.60,102.00 591.53,99.53 591.60,98.00 C591.67,96.47 591.72,96.55 592.00,94.80 C592.28,93.05 592.48,90.67 593.30,87.50 C594.12,84.33 595.78,79.10 596.90,75.80 C598.02,72.50 598.87,70.17 600.00,67.70 C601.13,65.23 602.47,62.52 603.70,61.00 C604.93,59.48 605.33,59.38 607.40,58.60 C609.47,57.82 613.00,57.10 616.10,56.30 C619.20,55.50 623.52,54.47 626.00,53.80 C628.48,53.13 629.33,52.73 631.00,52.30 C632.67,51.87 634.25,51.18 636.00,51.20 Z" fill="url(#sk)" stroke="#948c46" stroke-width="0.75"/>
<path d="M636.00,51.20 C637.75,51.22 639.65,51.97 641.50,52.40 C643.35,52.83 644.52,53.07 647.10,53.80 C649.68,54.53 654.10,55.90 657.00,56.80 C659.90,57.70 662.43,58.10 664.50,59.20 C666.57,60.30 667.95,61.67 669.40,63.40 C670.85,65.13 672.27,67.83 673.20,69.60 C674.13,71.37 675.52,72.55 675.00,74.00 C674.48,75.45 671.05,78.22 670.10,78.30 C669.15,78.38 669.62,75.75 669.30,74.50 C668.98,73.25 668.75,71.85 668.20,70.80 C667.65,69.75 666.83,69.02 666.00,68.20 C665.17,67.38 664.37,66.63 663.20,65.90 C662.03,65.17 660.43,64.43 659.00,63.80 C657.57,63.17 656.17,62.62 654.60,62.10 C653.03,61.58 651.27,61.12 649.60,60.70 C647.93,60.28 646.17,59.85 644.60,59.60 C643.03,59.35 641.65,59.30 640.20,59.20 C638.75,59.10 637.43,58.95 635.90,59.00 C634.37,59.05 632.65,59.28 631.00,59.50 C629.35,59.72 627.67,59.98 626.00,60.30 C624.33,60.62 622.65,61.00 621.00,61.40 C619.35,61.80 617.55,62.23 616.10,62.70 C614.65,63.17 613.55,63.67 612.30,64.20 C611.05,64.73 609.60,65.30 608.60,65.90 C607.60,66.50 607.02,67.08 606.30,67.80 C605.58,68.52 604.80,69.08 604.30,70.20 C603.80,71.32 603.62,72.95 603.30,74.50 C602.98,76.05 602.90,77.92 602.40,79.50 C601.90,81.08 601.07,82.52 600.30,84.00 C599.53,85.48 598.77,88.40 597.80,88.40 C596.83,88.40 594.65,86.10 594.50,84.00 C594.35,81.90 595.98,78.52 596.90,75.80 C597.82,73.08 598.87,70.17 600.00,67.70 C601.13,65.23 602.47,62.52 603.70,61.00 C604.93,59.48 605.33,59.38 607.40,58.60 C609.47,57.82 613.00,57.10 616.10,56.30 C619.20,55.50 623.52,54.47 626.00,53.80 C628.48,53.13 629.33,52.73 631.00,52.30 C632.67,51.87 634.25,51.18 636.00,51.20 Z" fill="#ebe176" opacity="0.8"/>
<path d="M619.60,176.00 C625.30,174.00 649.33,174.83 655.00,176.00 C660.67,177.17 654.00,181.00 653.60,183.00 C653.20,185.00 652.98,185.67 652.60,188.00 C652.22,190.33 651.85,194.08 651.30,197.00 C650.75,199.92 650.13,202.90 649.30,205.50 C648.47,208.10 647.52,210.58 646.30,212.60 C645.08,214.62 643.43,216.48 642.00,217.60 C640.57,218.72 638.93,219.15 637.70,219.30 C636.47,219.45 636.02,219.28 634.60,218.50 C633.18,217.72 630.82,216.52 629.20,214.60 C627.58,212.68 626.07,209.93 624.90,207.00 C623.73,204.07 622.88,200.17 622.20,197.00 C621.52,193.83 621.23,191.50 620.80,188.00 C620.37,184.50 613.90,178.00 619.60,176.00 Z" fill="url(#sn)" stroke="#948c46" stroke-width="0.5"/>
<path d="M594.00,125.30 C593.45,125.77 594.82,128.38 595.20,130.00 C595.58,131.62 595.95,133.33 596.30,135.00 C596.65,136.67 597.00,138.33 597.30,140.00 C597.60,141.67 597.80,143.33 598.10,145.00 C598.40,146.67 598.68,148.33 599.10,150.00 C599.52,151.67 600.10,153.33 600.60,155.00 C601.10,156.67 601.52,158.50 602.10,160.00 C602.68,161.50 603.35,162.83 604.10,164.00 C604.85,165.17 605.68,166.25 606.60,167.00 C607.52,167.75 608.75,168.20 609.60,168.50 C610.45,168.80 611.10,168.88 611.70,168.80 C612.30,168.72 612.53,168.63 613.20,168.00 C613.87,167.37 615.07,166.33 615.70,165.00 C616.33,163.67 616.75,161.67 617.00,160.00 C617.25,158.33 617.27,156.42 617.20,155.00 C617.13,153.58 616.93,152.58 616.60,151.50 C616.27,150.42 615.77,149.50 615.20,148.50 C614.63,147.50 613.93,146.58 613.20,145.50 C612.47,144.42 611.67,143.17 610.80,142.00 C609.93,140.83 608.97,139.75 608.00,138.50 C607.03,137.25 606.00,135.78 605.00,134.50 C604.00,133.22 603.08,132.02 602.00,130.80 C600.92,129.58 599.83,128.12 598.50,127.20 C597.17,126.28 594.55,124.83 594.00,125.30 Z" fill="#ffffff" stroke="#9a9248" stroke-width="0.8"/>
<path d="M680.00,116.00 C680.32,116.57 680.33,118.50 680.30,120.00 C680.27,121.50 679.98,123.33 679.80,125.00 C679.62,126.67 679.47,128.33 679.20,130.00 C678.93,131.67 678.53,133.33 678.20,135.00 C677.87,136.67 677.45,138.33 677.20,140.00 C676.95,141.67 676.87,143.33 676.70,145.00 C676.53,146.67 676.53,148.33 676.20,150.00 C675.87,151.67 675.30,153.33 674.70,155.00 C674.10,156.67 673.37,158.50 672.60,160.00 C671.83,161.50 671.02,162.92 670.10,164.00 C669.18,165.08 668.18,165.92 667.10,166.50 C666.02,167.08 664.52,167.42 663.60,167.50 C662.68,167.58 662.27,167.42 661.60,167.00 C660.93,166.58 660.20,166.17 659.60,165.00 C659.00,163.83 658.35,161.67 658.00,160.00 C657.65,158.33 657.53,156.58 657.50,155.00 C657.47,153.42 657.45,151.92 657.80,150.50 C658.15,149.08 658.90,147.75 659.60,146.50 C660.30,145.25 661.10,144.20 662.00,143.00 C662.90,141.80 663.92,140.80 665.00,139.30 C666.08,137.80 667.37,135.80 668.50,134.00 C669.63,132.20 670.68,130.42 671.80,128.50 C672.92,126.58 674.10,124.48 675.20,122.50 C676.30,120.52 677.60,117.68 678.40,116.60 C679.20,115.52 679.68,115.43 680.00,116.00 Z" fill="#ffffff" stroke="#9a9248" stroke-width="0.8"/>
<path d="M599.40,126.40 C599.98,127.00 601.82,128.78 602.90,130.00 C603.98,131.22 604.90,132.42 605.90,133.70 C606.90,134.98 607.93,136.45 608.90,137.70 C609.87,138.95 610.83,140.03 611.70,141.20 C612.57,142.37 613.70,144.12 614.10,144.70" fill="none" stroke="#b2b2aa" stroke-width="2.2"/>
<path d="M677.50,116.00 C676.97,116.98 675.40,119.92 674.30,121.90 C673.20,123.88 672.02,125.98 670.90,127.90 C669.78,129.82 668.73,131.60 667.60,133.40 C666.47,135.20 665.18,137.20 664.10,138.70 C663.02,140.20 661.60,141.78 661.10,142.40" fill="none" stroke="#b2b2aa" stroke-width="2"/>
<path d="M615.80,171.10 C616.08,171.50 616.83,172.83 617.50,173.50 C618.17,174.17 618.73,174.60 619.80,175.10 C620.87,175.60 622.78,176.42 623.90,176.50 C625.02,176.58 625.72,175.83 626.50,175.60 C627.28,175.37 627.68,175.27 628.60,175.10 C629.52,174.93 630.88,174.70 632.00,174.60 C633.12,174.50 634.30,174.43 635.30,174.50 C636.30,174.57 637.12,174.93 638.00,175.00 C638.88,175.07 639.60,175.03 640.60,174.90 C641.60,174.77 642.88,174.38 644.00,174.20 C645.12,174.02 646.38,173.58 647.30,173.80 C648.22,174.02 648.82,174.90 649.50,175.50 C650.18,176.10 650.63,177.23 651.40,177.40 C652.17,177.57 653.33,177.07 654.10,176.50 C654.87,175.93 655.45,174.90 656.00,174.00 C656.55,173.10 657.17,171.58 657.40,171.10" fill="none" stroke="#b9b9b4" stroke-width="2.2" stroke-linejoin="round"/>
<path d="M615.80,171.10 C616.08,171.50 616.83,172.83 617.50,173.50 C618.17,174.17 618.73,174.60 619.80,175.10 C620.87,175.60 622.78,176.42 623.90,176.50 C625.02,176.58 625.72,175.83 626.50,175.60 C627.28,175.37 627.68,175.27 628.60,175.10 C629.52,174.93 630.88,174.70 632.00,174.60 C633.12,174.50 634.30,174.43 635.30,174.50 C636.30,174.57 637.12,174.93 638.00,175.00 C638.88,175.07 639.60,175.03 640.60,174.90 C641.60,174.77 642.88,174.38 644.00,174.20 C645.12,174.02 646.38,173.58 647.30,173.80 C648.22,174.02 648.82,174.90 649.50,175.50 C650.18,176.10 650.63,177.23 651.40,177.40 C652.17,177.57 653.33,177.07 654.10,176.50 C654.87,175.93 655.45,174.90 656.00,174.00 C656.55,173.10 657.17,171.58 657.40,171.10" fill="none" stroke="#d8d8d4" stroke-width="0.7" stroke-linejoin="round" transform="translate(0,-0.5)"/>
<path d="M626.6,177 C626,185 625.6,195 626,203 C626.3,206 627,208 627.6,209.5 M636.6,176.5 C636.8,190 637,205 637.2,219 M645.3,176.5 C646,187 647,197 647.6,206" fill="none" stroke="#a9a9a6" stroke-width="1.0"/>
<path d="M621.5,178 C621.2,184 621.3,190 622,196 M652.5,178 C652.6,184 652.4,190 651.8,196" fill="none" stroke="#c4bb66" stroke-width="0.8"/>
<path d="M597.80,88.40 L598.14,87.55 L598.72,86.70 L599.38,85.50 L599.51,85.08 L600.16,83.84 L601.12,82.86 L601.55,81.74 L601.96,80.42 L602.48,79.72 L602.59,78.64 L602.86,77.24 L603.09,76.55 L603.00,75.22 L603.52,74.48 L603.68,73.65 L603.93,72.60 L603.99,71.46 L604.27,70.46 L605.19,69.16 L605.41,68.43 L606.58,67.76 L607.53,66.73 L608.60,65.83 L609.44,65.53 L610.50,65.29 L611.48,64.88 L612.51,64.49 L613.35,63.62 L614.42,63.73 L615.39,63.12 L616.23,62.53 L617.28,62.48 L617.93,61.92 L619.25,62.21 L619.77,61.84 L620.95,61.19 L621.88,61.34 L623.22,60.69 L624.07,60.47 L625.13,60.42 L626.23,60.59 L627.00,60.44 L627.89,59.73 L629.06,59.54 L629.82,59.60 L631.07,59.29 L631.95,59.60 L633.34,59.53 L634.91,59.05 L635.88,59.01 L637.06,59.11 L638.09,59.17 L639.39,59.15 L640.16,59.33 L641.14,59.18 L642.69,59.41 L643.53,59.21 L644.55,59.65 L645.31,59.89 L646.68,59.78 L647.68,60.24 L648.71,60.39 L649.72,60.84 L650.31,60.72 L651.71,61.54 L652.45,61.51 L653.66,61.71 L654.52,61.99 L655.62,62.58 L656.68,62.88 L658.06,63.09 L659.04,63.94 L659.94,64.16 L661.28,64.69 L661.96,65.34 L663.32,65.66 L664.03,66.57 L665.27,67.40 L666.21,68.00 L666.64,69.16 L667.70,69.90 L668.04,70.57 L668.58,71.85 L669.12,73.47 L669.11,74.37 L669.75,75.85 L670.02,76.94 L669.88,78.18 L670.74,79.23 L670.94,80.38 L671.45,81.45 L672.32,82.36 L672.34,83.90 L673.20,84.70" fill="none" stroke="#f07c6c" stroke-width="0.9" stroke-linejoin="round"/>
<path d="M593.30,89.30 L594.47,88.71 L595.05,87.75 L596.30,86.31 L597.01,86.07 L597.78,85.18 L598.35,84.39 L599.81,83.00 L601.16,82.98 L602.42,82.65 L603.58,82.94 L604.20,83.93 L604.78,84.55 L604.99,83.94 L605.94,82.89 L607.11,82.32 L608.11,82.38 L609.43,81.74 L610.35,81.88 L611.68,81.60 L612.80,80.84 L614.12,80.92 L615.10,80.44 L616.86,79.98 L618.03,78.96 L619.34,79.65 L620.38,79.34 L621.47,80.15 L622.51,80.75 L623.69,81.05 L624.19,81.09 L625.24,81.00 L626.83,81.50 L627.21,81.20 L628.37,81.50 L629.40,82.17 L630.56,82.40 L631.42,82.81 L632.50,83.41 L634.05,83.72 L634.91,84.02 L636.50,84.70" fill="none" stroke="#d24ae8" stroke-width="1.3" stroke-linejoin="round"/>
<path d="M637.30,86.30 L638.11,85.61 L639.30,84.68 L640.21,84.09 L640.75,83.28 L641.60,82.88 L642.34,82.24 L643.32,82.42 L644.33,83.24 L644.73,82.15 L645.70,81.57 L646.78,80.31 L647.48,79.70 L648.26,79.40 L649.39,79.57 L650.99,79.55 L652.30,79.32 L653.28,79.50 L653.86,79.78 L654.81,79.73 L656.37,79.92 L656.91,80.22 L658.43,80.54 L658.80,81.27 L659.83,81.54 L661.19,81.80 L662.35,81.89 L663.21,81.78 L664.21,82.49 L665.19,82.58 L666.23,83.54 L666.77,83.50 L668.14,84.23 L668.99,84.11 L670.06,84.75 L671.48,84.93 L671.86,84.13 L672.50,83.34 L673.16,84.05 L674.63,84.64 L675.32,85.11 L676.13,86.18 L677.12,86.55 L677.99,87.17 L679.00,87.60" fill="none" stroke="#16bc2e" stroke-width="1.3" stroke-linejoin="round"/>
<path d="M635.60,84.70 L635.56,85.51 L634.30,87.35 L635.32,88.02 L634.52,89.31 L634.06,89.67 L633.98,91.12 L634.04,91.63 L634.77,93.63 L634.41,94.29 L634.78,95.50 L635.19,95.67 L634.84,96.33 L635.37,97.84 L635.21,98.80 L635.68,100.38 L635.70,101.69 L636.27,101.94 L636.36,103.07 L636.95,103.48 L636.57,104.51 L636.93,104.99 L636.59,106.71 L636.05,106.62 L635.65,108.10 L636.20,109.24 L636.37,109.04 L635.37,109.86 L635.60,111.25 L636.77,112.29 L636.16,113.01 L636.44,113.49 L637.22,114.12 L636.16,116.10 L636.28,116.37 L636.51,117.75 L635.54,118.10 L635.98,119.15 L635.49,120.12 L636.74,120.65 L636.30,121.60" fill="none" stroke="#f2b000" stroke-width="1.9" stroke-linejoin="round"/>
<path d="M635.60,84.70 L635.56,85.51 L634.30,87.35 L635.32,88.02 L634.52,89.31 L634.06,89.67 L633.98,91.12 L634.04,91.63 L634.77,93.63 L634.41,94.29 L634.78,95.50 L635.19,95.67 L634.84,96.33 L635.37,97.84 L635.21,98.80 L635.68,100.38 L635.70,101.69 L636.27,101.94 L636.36,103.07 L636.95,103.48 L636.57,104.51 L636.93,104.99 L636.59,106.71 L636.05,106.62 L635.65,108.10 L636.20,109.24 L636.37,109.04 L635.37,109.86 L635.60,111.25 L636.77,112.29 L636.16,113.01 L636.44,113.49 L637.22,114.12 L636.16,116.10 L636.28,116.37 L636.51,117.75 L635.54,118.10 L635.98,119.15 L635.49,120.12 L636.74,120.65 L636.30,121.60" fill="none" stroke="#ffe030" stroke-width="0.9" stroke-linejoin="round"/>
<path d="M636.00,121.80 L634.78,122.32 L633.36,123.40 L632.07,124.13 L631.35,124.26 L630.33,124.62 L629.20,125.05 L627.88,125.21 L627.06,125.48 L625.79,125.65 L625.18,125.80 L623.92,125.70 L622.90,126.08 L622.03,126.51 L620.64,126.81 L619.39,127.68 L618.06,128.43 L617.29,128.57 L616.61,129.23 L615.40,130.23 L614.81,131.03 L614.09,131.87 L613.45,132.64 L612.87,133.90 L612.85,134.73 L612.59,136.07 L612.06,137.53 L612.37,138.53 L612.10,139.85 L612.36,141.16 L612.20,142.44 L612.57,143.71 L612.71,144.81 L612.97,145.61 L613.60,146.90" fill="none" stroke="#ea1c1c" stroke-width="1.1" stroke-linejoin="round"/>
<path d="M636.50,122.30 L637.41,122.62 L638.97,123.54 L639.76,123.76 L641.05,124.65 L642.49,125.05 L643.56,125.09 L644.69,125.42 L646.02,125.94 L647.07,126.00 L648.67,126.12 L649.93,127.03 L651.27,127.13 L652.28,127.70 L653.58,128.39 L654.76,128.48 L656.02,129.09 L656.86,129.84 L657.50,130.46 L658.65,131.10 L659.31,131.88 L659.52,132.97 L659.82,134.00 L660.32,135.13 L660.41,136.61 L660.74,137.28 L660.78,138.82 L660.43,139.92 L660.84,141.00 L661.32,142.76 L661.09,143.72 L661.22,144.28 L660.50,146.00" fill="none" stroke="#2440ea" stroke-width="1.1" stroke-linejoin="round"/>
<circle cx="648.5" cy="71.2" r="5.6" fill="#c9c9c9" stroke="#2a2a2a" stroke-width="0.8"/>
<circle cx="648.5" cy="93.4" r="5.6" fill="#9f9f9f" stroke="#2a2a2a" stroke-width="0.8"/>
<circle cx="648.5" cy="115.3" r="5.6" fill="#a0a0a0" stroke="#2a2a2a" stroke-width="0.8"/>
<circle cx="648.5" cy="137.8" r="5.6" fill="#ffffff" stroke="#2a2a2a" stroke-width="0.8"/>
<g font-size="4.8" font-weight="bold">
<text x="627" y="66" fill="#f27a6e" textLength="18" lengthAdjust="spacingAndGlyphs">Lambd</text>
<text x="608.1" y="88.7" fill="#8638ac" textLength="10.1" lengthAdjust="spacingAndGlyphs">IntR</text>
<text x="658.7" y="89.8" fill="#2cb04c" textLength="9.5" lengthAdjust="spacingAndGlyphs">IntL</text>
<text x="609.9" y="125.1" fill="#e41e1e" textLength="13.9" lengthAdjust="spacingAndGlyphs">CorR</text>
<text x="654" y="125.1" fill="#3848e0" textLength="12" lengthAdjust="spacingAndGlyphs">CorL</text>
<text transform="translate(631.1,107.9) rotate(-90)" fill="#f0a818" textLength="10.1" lengthAdjust="spacingAndGlyphs">Sag</text>
</g>
</g>
</svg></body></html>
